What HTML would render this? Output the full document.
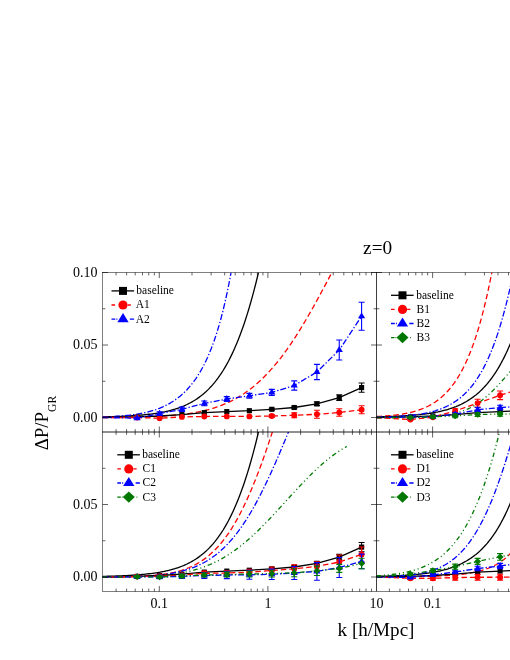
<!DOCTYPE html>
<html><head><meta charset="utf-8"><title>z=0</title>
<style>
html,body{margin:0;padding:0;background:#fff;}
body{width:510px;height:660px;overflow:hidden;font-family:"Liberation Serif",serif;}
svg{display:block;} svg{will-change:transform;}
</style></head><body>
<svg width="510" height="660" viewBox="0 0 510 660" font-family="Liberation Serif, serif" fill="#000">
<rect x="0" y="0" width="510" height="660" fill="#fff"/>
<defs>
<clipPath id="cA"><rect x="102.5" y="272.5" width="274" height="159.5"/></clipPath>
<clipPath id="cB"><rect x="376.5" y="272.5" width="138.5" height="159.5"/></clipPath>
<clipPath id="cC"><rect x="102.5" y="432" width="274" height="159.5"/></clipPath>
<clipPath id="cD"><rect x="376.5" y="432" width="138.5" height="159.5"/></clipPath>
</defs>
<path d="M102.5 416.85 L104.22 416.82 L105.95 416.78 L107.67 416.74 L109.39 416.69 L111.12 416.64 L112.84 416.59 L114.56 416.54 L116.29 416.48 L118.01 416.42 L119.73 416.36 L121.46 416.29 L123.18 416.21 L124.9 416.13 L126.63 416.05 L128.35 415.96 L130.07 415.86 L131.8 415.76 L133.52 415.65 L135.24 415.53 L136.97 415.41 L138.69 415.28 L140.41 415.14 L142.14 414.98 L143.86 414.82 L145.58 414.65 L147.31 414.47 L149.03 414.27 L150.75 414.06 L152.47 413.84 L154.2 413.6 L155.92 413.35 L157.64 413.08 L159.37 412.79 L161.09 412.48 L162.81 412.15 L164.54 411.8 L166.26 411.43 L167.98 411.03 L169.71 410.61 L171.43 410.16 L173.15 409.68 L174.88 409.17 L176.6 408.62 L178.32 408.04 L180.05 407.42 L181.77 406.76 L183.49 406.06 L185.22 405.31 L186.94 404.52 L188.66 403.68 L190.39 402.78 L192.11 401.82 L193.83 400.81 L195.56 399.73 L197.28 398.59 L199 397.38 L200.73 396.09 L202.45 394.72 L204.17 393.27 L205.9 391.74 L207.62 390.11 L209.34 388.38 L211.07 386.56 L212.79 384.63 L214.51 382.58 L216.24 380.42 L217.96 378.13 L219.68 375.72 L221.41 373.17 L223.13 370.48 L224.85 367.64 L226.58 364.64 L228.3 361.49 L230.02 358.16 L231.75 354.66 L233.47 350.98 L235.19 347.11 L236.92 343.04 L238.64 338.77 L240.36 334.29 L242.08 329.59 L243.81 324.66 L245.53 319.5 L247.25 314.1 L248.98 308.45 L250.7 302.54 L252.42 296.37 L254.15 289.93 L255.87 283.22 L257.59 276.22 L258.48 272.5" fill="none" stroke="#000" stroke-width="1.3" clip-path="url(#cA)"/>
<path d="M102.5 417.42 L104.22 417.41 L105.95 417.4 L107.67 417.4 L109.39 417.39 L111.12 417.38 L112.84 417.36 L114.56 417.35 L116.29 417.34 L118.01 417.32 L119.73 417.31 L121.46 417.29 L123.18 417.27 L124.9 417.25 L126.63 417.23 L128.35 417.21 L130.07 417.18 L131.8 417.15 L133.52 417.12 L135.24 417.09 L136.97 417.06 L138.69 417.02 L140.41 416.98 L142.14 416.94 L143.86 416.89 L145.58 416.84 L147.31 416.79 L149.03 416.73 L150.75 416.67 L152.47 416.61 L154.2 416.54 L155.92 416.46 L157.64 416.38 L159.37 416.3 L161.09 416.21 L162.81 416.11 L164.54 416.01 L166.26 415.89 L167.98 415.78 L169.71 415.65 L171.43 415.51 L173.15 415.37 L174.88 415.22 L176.6 415.06 L178.32 414.88 L180.05 414.7 L181.77 414.51 L183.49 414.3 L185.22 414.08 L186.94 413.85 L188.66 413.61 L190.39 413.35 L192.11 413.07 L193.83 412.78 L195.56 412.47 L197.28 412.15 L199 411.81 L200.73 411.45 L202.45 411.07 L204.17 410.67 L205.9 410.24 L207.62 409.8 L209.34 409.33 L211.07 408.84 L212.79 408.33 L214.51 407.79 L216.24 407.22 L217.96 406.62 L219.68 406 L221.41 405.35 L223.13 404.66 L224.85 403.95 L226.58 403.2 L228.3 402.42 L230.02 401.6 L231.75 400.75 L233.47 399.86 L235.19 398.93 L236.92 397.97 L238.64 396.97 L240.36 395.92 L242.08 394.83 L243.81 393.71 L245.53 392.53 L247.25 391.32 L248.98 390.05 L250.7 388.75 L252.42 387.39 L254.15 385.99 L255.87 384.54 L257.59 383.04 L259.32 381.48 L261.04 379.88 L262.76 378.23 L264.49 376.53 L266.21 374.77 L267.93 372.96 L269.66 371.1 L271.38 369.18 L273.1 367.22 L274.83 365.19 L276.55 363.12 L278.27 360.99 L280 358.8 L281.72 356.57 L283.44 354.28 L285.17 351.94 L286.89 349.54 L288.61 347.09 L290.34 344.6 L292.06 342.05 L293.78 339.45 L295.51 336.81 L297.23 334.11 L298.95 331.37 L300.68 328.59 L302.4 325.76 L304.12 322.89 L305.85 319.98 L307.57 317.03 L309.29 314.04 L311.02 311.02 L312.74 307.96 L314.46 304.88 L316.19 301.76 L317.91 298.62 L319.63 295.46 L321.36 292.27 L323.08 289.07 L324.8 285.85 L326.53 282.62 L328.25 279.38 L329.97 276.13 L331.69 272.87 L331.89 272.5" fill="none" stroke="#ff0000" stroke-width="1.3" stroke-dasharray="5.5 3" clip-path="url(#cA)"/>
<path d="M102.5 417.01 L104.22 416.95 L105.95 416.89 L107.67 416.82 L109.39 416.75 L111.12 416.66 L112.84 416.58 L114.56 416.48 L116.29 416.37 L118.01 416.26 L119.73 416.14 L121.46 416 L123.18 415.85 L124.9 415.7 L126.63 415.52 L128.35 415.34 L130.07 415.14 L131.8 414.92 L133.52 414.69 L135.24 414.44 L136.97 414.17 L138.69 413.88 L140.41 413.57 L142.14 413.23 L143.86 412.87 L145.58 412.49 L147.31 412.08 L149.03 411.64 L150.75 411.16 L152.47 410.66 L154.2 410.12 L155.92 409.55 L157.64 408.93 L159.37 408.28 L161.09 407.58 L162.81 406.84 L164.54 406.04 L166.26 405.2 L167.98 404.3 L169.71 403.34 L171.43 402.32 L173.15 401.24 L174.88 400.08 L176.6 398.86 L178.32 397.55 L180.05 396.17 L181.77 394.69 L183.49 393.13 L185.22 391.46 L186.94 389.69 L188.66 387.81 L190.39 385.81 L192.11 383.68 L193.83 381.41 L195.56 379.01 L197.28 376.44 L199 373.72 L200.73 370.82 L202.45 367.73 L204.17 364.45 L205.9 360.95 L207.62 357.22 L209.34 353.24 L211.07 349 L212.79 344.48 L214.51 339.66 L216.24 334.51 L217.96 329.01 L219.68 323.13 L221.41 316.85 L223.13 310.13 L224.85 302.93 L226.58 295.23 L228.3 286.98 L230.02 278.13 L231.04 272.5" fill="none" stroke="#0000ff" stroke-width="1.3" stroke-dasharray="6 2 1.3 2" clip-path="url(#cA)"/>
<path d="M102.5 417.5 L137.1 416.9 L159.6 416 L181.9 414.6 L204.3 412.6 L226.8 411.6 L249.35 410.7 L271.8 409.3 L294.25 407.5 L316.9 403.8 L339.25 397.6 L361.6 387.6" fill="none" stroke="#000" stroke-width="1.3" clip-path="url(#cA)"/>
<g clip-path="url(#cA)">
<path d="M271.8 408.3 V410.3 M268.8 408.3 H274.8 M268.8 410.3 H274.8" stroke="#000" stroke-width="1.1" fill="none"/>
<path d="M294.25 406.3 V408.7 M291.25 406.3 H297.25 M291.25 408.7 H297.25" stroke="#000" stroke-width="1.1" fill="none"/>
<path d="M316.9 402 V405.6 M313.9 402 H319.9 M313.9 405.6 H319.9" stroke="#000" stroke-width="1.1" fill="none"/>
<path d="M339.25 394.8 V400.4 M336.25 394.8 H342.25 M336.25 400.4 H342.25" stroke="#000" stroke-width="1.1" fill="none"/>
<path d="M361.6 383 V392.2 M358.6 383 H364.6 M358.6 392.2 H364.6" stroke="#000" stroke-width="1.1" fill="none"/>
<rect x="134.54" y="414.34" width="5.12" height="5.12" fill="#000"/>
<rect x="157.04" y="413.44" width="5.12" height="5.12" fill="#000"/>
<rect x="179.34" y="412.04" width="5.12" height="5.12" fill="#000"/>
<rect x="201.74" y="410.04" width="5.12" height="5.12" fill="#000"/>
<rect x="224.24" y="409.04" width="5.12" height="5.12" fill="#000"/>
<rect x="246.79" y="408.14" width="5.12" height="5.12" fill="#000"/>
<rect x="269.24" y="406.74" width="5.12" height="5.12" fill="#000"/>
<rect x="291.69" y="404.94" width="5.12" height="5.12" fill="#000"/>
<rect x="314.34" y="401.24" width="5.12" height="5.12" fill="#000"/>
<rect x="336.69" y="395.04" width="5.12" height="5.12" fill="#000"/>
<rect x="359.04" y="385.04" width="5.12" height="5.12" fill="#000"/>
</g>
<path d="M102.5 417.5 L137.1 417.6 L159.6 418.2 L181.9 416.9 L204.3 416.5 L226.8 416.4 L249.35 416.4 L271.8 416 L294.25 415.3 L316.9 414.3 L339.25 412.5 L361.6 409.8" fill="none" stroke="#ff0000" stroke-width="1.3" stroke-dasharray="5.5 3" clip-path="url(#cA)"/>
<g clip-path="url(#cA)">
<path d="M271.8 414.5 V417.5 M268.8 414.5 H274.8 M268.8 417.5 H274.8" stroke="#ff0000" stroke-width="1.1" fill="none"/>
<path d="M294.25 412.8 V417.8 M291.25 412.8 H297.25 M291.25 417.8 H297.25" stroke="#ff0000" stroke-width="1.1" fill="none"/>
<path d="M316.9 410.3 V418.3 M313.9 410.3 H319.9 M313.9 418.3 H319.9" stroke="#ff0000" stroke-width="1.1" fill="none"/>
<path d="M339.25 408.7 V416.3 M336.25 408.7 H342.25 M336.25 416.3 H342.25" stroke="#ff0000" stroke-width="1.1" fill="none"/>
<path d="M361.6 405.8 V413.8 M358.6 405.8 H364.6 M358.6 413.8 H364.6" stroke="#ff0000" stroke-width="1.1" fill="none"/>
<circle cx="137.1" cy="417.6" r="2.94" fill="#ff0000"/>
<circle cx="159.6" cy="418.2" r="2.94" fill="#ff0000"/>
<circle cx="181.9" cy="416.9" r="2.94" fill="#ff0000"/>
<circle cx="204.3" cy="416.5" r="2.94" fill="#ff0000"/>
<circle cx="226.8" cy="416.4" r="2.94" fill="#ff0000"/>
<circle cx="249.35" cy="416.4" r="2.94" fill="#ff0000"/>
<circle cx="271.8" cy="416" r="2.94" fill="#ff0000"/>
<circle cx="294.25" cy="415.3" r="2.94" fill="#ff0000"/>
<circle cx="316.9" cy="414.3" r="2.94" fill="#ff0000"/>
<circle cx="339.25" cy="412.5" r="2.94" fill="#ff0000"/>
<circle cx="361.6" cy="409.8" r="2.94" fill="#ff0000"/>
</g>
<path d="M102.5 417.5 L137.1 418.2 L159.6 413.6 L181.9 409.3 L204.3 403.4 L226.8 399 L249.35 395.8 L271.8 392.4 L294.25 385.5 L316.9 372 L339.25 350 L361.6 316.3" fill="none" stroke="#0000ff" stroke-width="1.3" stroke-dasharray="6 2 1.3 2" clip-path="url(#cA)"/>
<g clip-path="url(#cA)">
<path d="M137.1 417.2 V419.2 M134.1 417.2 H140.1 M134.1 419.2 H140.1" stroke="#0000ff" stroke-width="1.1" fill="none"/>
<path d="M159.6 411.8 V415.4 M156.6 411.8 H162.6 M156.6 415.4 H162.6" stroke="#0000ff" stroke-width="1.1" fill="none"/>
<path d="M181.9 407.1 V411.5 M178.9 407.1 H184.9 M178.9 411.5 H184.9" stroke="#0000ff" stroke-width="1.1" fill="none"/>
<path d="M204.3 401 V405.8 M201.3 401 H207.3 M201.3 405.8 H207.3" stroke="#0000ff" stroke-width="1.1" fill="none"/>
<path d="M226.8 396.6 V401.4 M223.8 396.6 H229.8 M223.8 401.4 H229.8" stroke="#0000ff" stroke-width="1.1" fill="none"/>
<path d="M249.35 393.4 V398.2 M246.35 393.4 H252.35 M246.35 398.2 H252.35" stroke="#0000ff" stroke-width="1.1" fill="none"/>
<path d="M271.8 389.4 V395.4 M268.8 389.4 H274.8 M268.8 395.4 H274.8" stroke="#0000ff" stroke-width="1.1" fill="none"/>
<path d="M294.25 380.9 V390.1 M291.25 380.9 H297.25 M291.25 390.1 H297.25" stroke="#0000ff" stroke-width="1.1" fill="none"/>
<path d="M316.9 364.4 V379.6 M313.9 364.4 H319.9 M313.9 379.6 H319.9" stroke="#0000ff" stroke-width="1.1" fill="none"/>
<path d="M339.25 340 V360 M336.25 340 H342.25 M336.25 360 H342.25" stroke="#0000ff" stroke-width="1.1" fill="none"/>
<path d="M361.6 302.3 V330.3 M358.6 302.3 H364.6 M358.6 330.3 H364.6" stroke="#0000ff" stroke-width="1.1" fill="none"/>
<path d="M137.1 414.3 L140.72 420.18 L133.48 420.18 Z" fill="#0000ff"/>
<path d="M159.6 409.7 L163.22 415.58 L155.98 415.58 Z" fill="#0000ff"/>
<path d="M181.9 405.4 L185.52 411.28 L178.28 411.28 Z" fill="#0000ff"/>
<path d="M204.3 399.5 L207.92 405.38 L200.68 405.38 Z" fill="#0000ff"/>
<path d="M226.8 395.1 L230.42 400.98 L223.18 400.98 Z" fill="#0000ff"/>
<path d="M249.35 391.9 L252.97 397.78 L245.73 397.78 Z" fill="#0000ff"/>
<path d="M271.8 388.5 L275.42 394.38 L268.18 394.38 Z" fill="#0000ff"/>
<path d="M294.25 381.6 L297.87 387.48 L290.63 387.48 Z" fill="#0000ff"/>
<path d="M316.9 368.1 L320.52 373.98 L313.28 373.98 Z" fill="#0000ff"/>
<path d="M339.25 346.1 L342.87 351.98 L335.63 351.98 Z" fill="#0000ff"/>
<path d="M361.6 312.4 L365.22 318.28 L357.98 318.28 Z" fill="#0000ff"/>
</g>
<path d="M376.5 416.85 L377.36 416.83 L378.23 416.81 L379.09 416.79 L379.96 416.77 L380.82 416.75 L381.69 416.73 L382.55 416.71 L383.42 416.68 L384.28 416.66 L385.15 416.63 L386.01 416.61 L386.88 416.58 L387.74 416.56 L388.61 416.53 L389.47 416.5 L390.34 416.47 L391.2 416.44 L392.07 416.41 L392.93 416.38 L393.8 416.34 L394.66 416.31 L395.53 416.27 L396.39 416.23 L397.25 416.2 L398.12 416.16 L398.98 416.11 L399.85 416.07 L400.71 416.03 L401.58 415.98 L402.44 415.94 L403.31 415.89 L404.17 415.84 L405.04 415.79 L405.9 415.73 L406.77 415.68 L407.63 415.62 L408.5 415.56 L409.36 415.5 L410.23 415.44 L411.09 415.38 L411.96 415.31 L412.82 415.24 L413.69 415.17 L414.55 415.1 L415.42 415.02 L416.28 414.94 L417.14 414.86 L418.01 414.78 L418.87 414.69 L419.74 414.6 L420.6 414.51 L421.47 414.42 L422.33 414.32 L423.2 414.22 L424.06 414.11 L424.93 414 L425.79 413.89 L426.66 413.78 L427.52 413.66 L428.39 413.53 L429.25 413.4 L430.12 413.27 L430.98 413.14 L431.85 413 L432.71 412.85 L433.58 412.7 L434.44 412.55 L435.31 412.39 L436.17 412.22 L437.03 412.05 L437.9 411.88 L438.76 411.69 L439.63 411.51 L440.49 411.31 L441.36 411.11 L442.22 410.9 L443.09 410.69 L443.95 410.47 L444.82 410.24 L445.68 410.01 L446.55 409.77 L447.41 409.52 L448.28 409.26 L449.14 408.99 L450.01 408.72 L450.87 408.43 L451.74 408.14 L452.6 407.84 L453.47 407.52 L454.33 407.2 L455.19 406.87 L456.06 406.53 L456.92 406.17 L457.79 405.81 L458.65 405.43 L459.52 405.04 L460.38 404.64 L461.25 404.23 L462.11 403.8 L462.98 403.36 L463.84 402.91 L464.71 402.44 L465.57 401.96 L466.44 401.46 L467.3 400.95 L468.17 400.42 L469.03 399.88 L469.9 399.32 L470.76 398.74 L471.63 398.14 L472.49 397.53 L473.36 396.9 L474.22 396.25 L475.08 395.58 L475.95 394.89 L476.81 394.17 L477.68 393.44 L478.54 392.69 L479.41 391.91 L480.27 391.11 L481.14 390.29 L482 389.44 L482.87 388.56 L483.73 387.67 L484.6 386.74 L485.46 385.79 L486.33 384.81 L487.19 383.81 L488.06 382.77 L488.92 381.71 L489.79 380.61 L490.65 379.49 L491.52 378.33 L492.38 377.14 L493.25 375.91 L494.11 374.66 L494.97 373.37 L495.84 372.04 L496.7 370.68 L497.57 369.27 L498.43 367.84 L499.3 366.36 L500.16 364.84 L501.03 363.28 L501.89 361.68 L502.76 360.04 L503.62 358.36 L504.49 356.63 L505.35 354.86 L506.22 353.04 L507.08 351.17 L507.95 349.26 L508.81 347.3 L509.68 345.29 L510.54 343.22 L511.41 341.11 L512.27 338.95 L513.14 336.73 L514 334.45" fill="none" stroke="#000" stroke-width="1.3" clip-path="url(#cB)"/>
<path d="M376.5 416.55 L377.36 416.51 L378.23 416.46 L379.09 416.41 L379.96 416.36 L380.82 416.31 L381.69 416.26 L382.55 416.2 L383.42 416.15 L384.28 416.09 L385.15 416.02 L386.01 415.96 L386.88 415.89 L387.74 415.82 L388.61 415.74 L389.47 415.66 L390.34 415.58 L391.2 415.5 L392.07 415.41 L392.93 415.32 L393.8 415.23 L394.66 415.13 L395.53 415.03 L396.39 414.92 L397.25 414.81 L398.12 414.69 L398.98 414.57 L399.85 414.45 L400.71 414.32 L401.58 414.18 L402.44 414.04 L403.31 413.89 L404.17 413.74 L405.04 413.58 L405.9 413.42 L406.77 413.25 L407.63 413.07 L408.5 412.89 L409.36 412.69 L410.23 412.49 L411.09 412.29 L411.96 412.07 L412.82 411.85 L413.69 411.62 L414.55 411.38 L415.42 411.13 L416.28 410.87 L417.14 410.6 L418.01 410.32 L418.87 410.03 L419.74 409.73 L420.6 409.42 L421.47 409.09 L422.33 408.76 L423.2 408.41 L424.06 408.05 L424.93 407.67 L425.79 407.28 L426.66 406.88 L427.52 406.46 L428.39 406.03 L429.25 405.58 L430.12 405.12 L430.98 404.64 L431.85 404.14 L432.71 403.62 L433.58 403.09 L434.44 402.53 L435.31 401.96 L436.17 401.36 L437.03 400.75 L437.9 400.11 L438.76 399.45 L439.63 398.77 L440.49 398.07 L441.36 397.34 L442.22 396.58 L443.09 395.8 L443.95 394.99 L444.82 394.15 L445.68 393.29 L446.55 392.39 L447.41 391.47 L448.28 390.51 L449.14 389.53 L450.01 388.51 L450.87 387.45 L451.74 386.36 L452.6 385.23 L453.47 384.07 L454.33 382.87 L455.19 381.62 L456.06 380.34 L456.92 379.02 L457.79 377.65 L458.65 376.24 L459.52 374.78 L460.38 373.28 L461.25 371.72 L462.11 370.12 L462.98 368.47 L463.84 366.76 L464.71 365 L465.57 363.19 L466.44 361.32 L467.3 359.39 L468.17 357.4 L469.03 355.34 L469.9 353.23 L470.76 351.05 L471.63 348.8 L472.49 346.48 L473.36 344.1 L474.22 341.64 L475.08 339.11 L475.95 336.5 L476.81 333.81 L477.68 331.04 L478.54 328.19 L479.41 325.26 L480.27 322.24 L481.14 319.13 L482 315.93 L482.87 312.63 L483.73 309.24 L484.6 305.76 L485.46 302.17 L486.33 298.48 L487.19 294.68 L488.06 290.78 L488.92 286.76 L489.79 282.63 L490.65 278.39 L491.52 274.03 L491.81 272.5" fill="none" stroke="#ff0000" stroke-width="1.3" stroke-dasharray="5.5 3" clip-path="url(#cB)"/>
<path d="M376.5 417.11 L377.36 417.1 L378.23 417.08 L379.09 417.06 L379.96 417.04 L380.82 417.02 L381.69 416.99 L382.55 416.97 L383.42 416.95 L384.28 416.92 L385.15 416.89 L386.01 416.87 L386.88 416.84 L387.74 416.81 L388.61 416.78 L389.47 416.75 L390.34 416.71 L391.2 416.68 L392.07 416.64 L392.93 416.6 L393.8 416.56 L394.66 416.52 L395.53 416.48 L396.39 416.43 L397.25 416.38 L398.12 416.33 L398.98 416.28 L399.85 416.23 L400.71 416.17 L401.58 416.12 L402.44 416.06 L403.31 415.99 L404.17 415.93 L405.04 415.86 L405.9 415.79 L406.77 415.72 L407.63 415.64 L408.5 415.56 L409.36 415.48 L410.23 415.39 L411.09 415.3 L411.96 415.21 L412.82 415.11 L413.69 415.01 L414.55 414.91 L415.42 414.8 L416.28 414.69 L417.14 414.57 L418.01 414.45 L418.87 414.32 L419.74 414.19 L420.6 414.05 L421.47 413.91 L422.33 413.77 L423.2 413.61 L424.06 413.45 L424.93 413.29 L425.79 413.12 L426.66 412.94 L427.52 412.76 L428.39 412.57 L429.25 412.37 L430.12 412.16 L430.98 411.95 L431.85 411.73 L432.71 411.5 L433.58 411.26 L434.44 411.01 L435.31 410.76 L436.17 410.49 L437.03 410.22 L437.9 409.93 L438.76 409.64 L439.63 409.33 L440.49 409.02 L441.36 408.69 L442.22 408.35 L443.09 408 L443.95 407.63 L444.82 407.25 L445.68 406.86 L446.55 406.46 L447.41 406.04 L448.28 405.61 L449.14 405.16 L450.01 404.69 L450.87 404.21 L451.74 403.72 L452.6 403.2 L453.47 402.67 L454.33 402.12 L455.19 401.55 L456.06 400.96 L456.92 400.36 L457.79 399.73 L458.65 399.08 L459.52 398.41 L460.38 397.71 L461.25 397 L462.11 396.26 L462.98 395.49 L463.84 394.7 L464.71 393.88 L465.57 393.04 L466.44 392.17 L467.3 391.27 L468.17 390.34 L469.03 389.38 L469.9 388.39 L470.76 387.37 L471.63 386.32 L472.49 385.23 L473.36 384.11 L474.22 382.95 L475.08 381.76 L475.95 380.53 L476.81 379.26 L477.68 377.95 L478.54 376.6 L479.41 375.21 L480.27 373.77 L481.14 372.29 L482 370.77 L482.87 369.2 L483.73 367.58 L484.6 365.91 L485.46 364.2 L486.33 362.43 L487.19 360.61 L488.06 358.73 L488.92 356.8 L489.79 354.81 L490.65 352.76 L491.52 350.65 L492.38 348.49 L493.25 346.25 L494.11 343.96 L494.97 341.59 L495.84 339.16 L496.7 336.66 L497.57 334.09 L498.43 331.45 L499.3 328.73 L500.16 325.93 L501.03 323.06 L501.89 320.1 L502.76 317.07 L503.62 313.94 L504.49 310.74 L505.35 307.44 L506.22 304.06 L507.08 300.58 L507.95 297.01 L508.81 293.34 L509.68 289.57 L510.54 285.7 L511.41 281.73 L512.27 277.65 L513.14 273.47 L513.33 272.5" fill="none" stroke="#0000ff" stroke-width="1.3" stroke-dasharray="6 2 1.3 2" clip-path="url(#cB)"/>
<path d="M376.5 417.5 L377.36 417.5 L378.23 417.5 L379.09 417.5 L379.96 417.5 L380.82 417.49 L381.69 417.49 L382.55 417.49 L383.42 417.49 L384.28 417.49 L385.15 417.49 L386.01 417.49 L386.88 417.49 L387.74 417.49 L388.61 417.49 L389.47 417.49 L390.34 417.49 L391.2 417.48 L392.07 417.48 L392.93 417.48 L393.8 417.48 L394.66 417.48 L395.53 417.47 L396.39 417.47 L397.25 417.47 L398.12 417.47 L398.98 417.46 L399.85 417.46 L400.71 417.46 L401.58 417.45 L402.44 417.45 L403.31 417.44 L404.17 417.44 L405.04 417.43 L405.9 417.43 L406.77 417.42 L407.63 417.41 L408.5 417.4 L409.36 417.4 L410.23 417.39 L411.09 417.38 L411.96 417.37 L412.82 417.36 L413.69 417.34 L414.55 417.33 L415.42 417.32 L416.28 417.3 L417.14 417.28 L418.01 417.27 L418.87 417.25 L419.74 417.23 L420.6 417.21 L421.47 417.18 L422.33 417.16 L423.2 417.13 L424.06 417.1 L424.93 417.07 L425.79 417.04 L426.66 417.01 L427.52 416.97 L428.39 416.93 L429.25 416.89 L430.12 416.84 L430.98 416.8 L431.85 416.75 L432.71 416.69 L433.58 416.63 L434.44 416.57 L435.31 416.51 L436.17 416.44 L437.03 416.37 L437.9 416.29 L438.76 416.21 L439.63 416.12 L440.49 416.03 L441.36 415.93 L442.22 415.83 L443.09 415.72 L443.95 415.61 L444.82 415.49 L445.68 415.36 L446.55 415.23 L447.41 415.09 L448.28 414.94 L449.14 414.79 L450.01 414.62 L450.87 414.45 L451.74 414.27 L452.6 414.08 L453.47 413.89 L454.33 413.68 L455.19 413.46 L456.06 413.23 L456.92 413 L457.79 412.75 L458.65 412.49 L459.52 412.22 L460.38 411.93 L461.25 411.64 L462.11 411.33 L462.98 411.01 L463.84 410.68 L464.71 410.34 L465.57 409.98 L466.44 409.6 L467.3 409.22 L468.17 408.81 L469.03 408.4 L469.9 407.97 L470.76 407.52 L471.63 407.06 L472.49 406.58 L473.36 406.09 L474.22 405.58 L475.08 405.05 L475.95 404.51 L476.81 403.95 L477.68 403.38 L478.54 402.78 L479.41 402.18 L480.27 401.55 L481.14 400.91 L482 400.25 L482.87 399.58 L483.73 398.88 L484.6 398.18 L485.46 397.45 L486.33 396.71 L487.19 395.95 L488.06 395.18 L488.92 394.39 L489.79 393.59 L490.65 392.77 L491.52 391.94 L492.38 391.09 L493.25 390.23 L494.11 389.36 L494.97 388.47 L495.84 387.58 L496.7 386.67 L497.57 385.75 L498.43 384.81 L499.3 383.87 L500.16 382.93 L501.03 381.97 L501.89 381 L502.76 380.03 L503.62 379.06 L504.49 378.08 L505.35 377.09 L506.22 376.1 L507.08 375.11 L507.95 374.13 L508.81 373.14 L509.68 372.15 L510.54 371.16 L511.41 370.18 L512.27 369.2 L513.14 368.23 L514 367.27" fill="none" stroke="#007800" stroke-width="1.3" stroke-dasharray="4.6 2.8 1.1 2.8 1.1 2.8" clip-path="url(#cB)"/>
<path d="M376.5 417.5 L410.4 416.9 L432.9 416 L455.2 414.6 L477.6 412.6 L500.1 411.6 L522.65 410.7 L545.1 409.3 L567.55 407.5 L590.2 403.8 L612.55 397.6 L634.9 387.6" fill="none" stroke="#000" stroke-width="1.3" clip-path="url(#cB)"/>
<g clip-path="url(#cB)">
<path d="M545.1 408.3 V410.3 M542.1 408.3 H548.1 M542.1 410.3 H548.1" stroke="#000" stroke-width="1.1" fill="none"/>
<path d="M567.55 406.3 V408.7 M564.55 406.3 H570.55 M564.55 408.7 H570.55" stroke="#000" stroke-width="1.1" fill="none"/>
<path d="M590.2 402 V405.6 M587.2 402 H593.2 M587.2 405.6 H593.2" stroke="#000" stroke-width="1.1" fill="none"/>
<path d="M612.55 394.8 V400.4 M609.55 394.8 H615.55 M609.55 400.4 H615.55" stroke="#000" stroke-width="1.1" fill="none"/>
<path d="M634.9 383 V392.2 M631.9 383 H637.9 M631.9 392.2 H637.9" stroke="#000" stroke-width="1.1" fill="none"/>
<rect x="407.84" y="414.34" width="5.12" height="5.12" fill="#000"/>
<rect x="430.34" y="413.44" width="5.12" height="5.12" fill="#000"/>
<rect x="452.64" y="412.04" width="5.12" height="5.12" fill="#000"/>
<rect x="475.04" y="410.04" width="5.12" height="5.12" fill="#000"/>
<rect x="497.54" y="409.04" width="5.12" height="5.12" fill="#000"/>
<rect x="520.09" y="408.14" width="5.12" height="5.12" fill="#000"/>
<rect x="542.54" y="406.74" width="5.12" height="5.12" fill="#000"/>
<rect x="564.99" y="404.94" width="5.12" height="5.12" fill="#000"/>
<rect x="587.64" y="401.24" width="5.12" height="5.12" fill="#000"/>
<rect x="609.99" y="395.04" width="5.12" height="5.12" fill="#000"/>
<rect x="632.34" y="385.04" width="5.12" height="5.12" fill="#000"/>
</g>
<path d="M376.5 417.5 L410.4 419.5 L432.9 417.2 L455.2 411 L477.6 403.1 L500.1 395.3 L522.65 388 L545.1 380 L567.55 372 L590.2 364 L612.55 356 L634.9 348" fill="none" stroke="#ff0000" stroke-width="1.3" stroke-dasharray="5.5 3" clip-path="url(#cB)"/>
<g clip-path="url(#cB)">
<path d="M410.4 418.5 V420.5 M407.4 418.5 H413.4 M407.4 420.5 H413.4" stroke="#ff0000" stroke-width="1.1" fill="none"/>
<path d="M432.9 416 V418.4 M429.9 416 H435.9 M429.9 418.4 H435.9" stroke="#ff0000" stroke-width="1.1" fill="none"/>
<path d="M455.2 408.8 V413.2 M452.2 408.8 H458.2 M452.2 413.2 H458.2" stroke="#ff0000" stroke-width="1.1" fill="none"/>
<path d="M477.6 399.2 V407 M474.6 399.2 H480.6 M474.6 407 H480.6" stroke="#ff0000" stroke-width="1.1" fill="none"/>
<path d="M500.1 391 V399.6 M497.1 391 H503.1 M497.1 399.6 H503.1" stroke="#ff0000" stroke-width="1.1" fill="none"/>
<path d="M522.65 384 V392 M519.65 384 H525.65 M519.65 392 H525.65" stroke="#ff0000" stroke-width="1.1" fill="none"/>
<path d="M545.1 376 V384 M542.1 376 H548.1 M542.1 384 H548.1" stroke="#ff0000" stroke-width="1.1" fill="none"/>
<path d="M567.55 368 V376 M564.55 368 H570.55 M564.55 376 H570.55" stroke="#ff0000" stroke-width="1.1" fill="none"/>
<path d="M590.2 360 V368 M587.2 360 H593.2 M587.2 368 H593.2" stroke="#ff0000" stroke-width="1.1" fill="none"/>
<path d="M612.55 352 V360 M609.55 352 H615.55 M609.55 360 H615.55" stroke="#ff0000" stroke-width="1.1" fill="none"/>
<path d="M634.9 344 V352 M631.9 344 H637.9 M631.9 352 H637.9" stroke="#ff0000" stroke-width="1.1" fill="none"/>
<circle cx="410.4" cy="419.5" r="2.94" fill="#ff0000"/>
<circle cx="432.9" cy="417.2" r="2.94" fill="#ff0000"/>
<circle cx="455.2" cy="411" r="2.94" fill="#ff0000"/>
<circle cx="477.6" cy="403.1" r="2.94" fill="#ff0000"/>
<circle cx="500.1" cy="395.3" r="2.94" fill="#ff0000"/>
<circle cx="522.65" cy="388" r="2.94" fill="#ff0000"/>
<circle cx="545.1" cy="380" r="2.94" fill="#ff0000"/>
<circle cx="567.55" cy="372" r="2.94" fill="#ff0000"/>
<circle cx="590.2" cy="364" r="2.94" fill="#ff0000"/>
<circle cx="612.55" cy="356" r="2.94" fill="#ff0000"/>
<circle cx="634.9" cy="348" r="2.94" fill="#ff0000"/>
</g>
<path d="M376.5 417.5 L410.4 417.2 L432.9 416.6 L455.2 414.3 L477.6 409.7 L500.1 407.6 L522.65 406 L545.1 404 L567.55 402 L590.2 400 L612.55 398 L634.9 396" fill="none" stroke="#0000ff" stroke-width="1.3" stroke-dasharray="6 2 1.3 2" clip-path="url(#cB)"/>
<g clip-path="url(#cB)">
<path d="M410.4 416.4 V418 M407.4 416.4 H413.4 M407.4 418 H413.4" stroke="#0000ff" stroke-width="1.1" fill="none"/>
<path d="M432.9 415.6 V417.6 M429.9 415.6 H435.9 M429.9 417.6 H435.9" stroke="#0000ff" stroke-width="1.1" fill="none"/>
<path d="M455.2 412.7 V415.9 M452.2 412.7 H458.2 M452.2 415.9 H458.2" stroke="#0000ff" stroke-width="1.1" fill="none"/>
<path d="M477.6 407.5 V411.9 M474.6 407.5 H480.6 M474.6 411.9 H480.6" stroke="#0000ff" stroke-width="1.1" fill="none"/>
<path d="M500.1 405.2 V410 M497.1 405.2 H503.1 M497.1 410 H503.1" stroke="#0000ff" stroke-width="1.1" fill="none"/>
<path d="M522.65 403 V409 M519.65 403 H525.65 M519.65 409 H525.65" stroke="#0000ff" stroke-width="1.1" fill="none"/>
<path d="M545.1 401 V407 M542.1 401 H548.1 M542.1 407 H548.1" stroke="#0000ff" stroke-width="1.1" fill="none"/>
<path d="M567.55 399 V405 M564.55 399 H570.55 M564.55 405 H570.55" stroke="#0000ff" stroke-width="1.1" fill="none"/>
<path d="M590.2 397 V403 M587.2 397 H593.2 M587.2 403 H593.2" stroke="#0000ff" stroke-width="1.1" fill="none"/>
<path d="M612.55 395 V401 M609.55 395 H615.55 M609.55 401 H615.55" stroke="#0000ff" stroke-width="1.1" fill="none"/>
<path d="M634.9 393 V399 M631.9 393 H637.9 M631.9 399 H637.9" stroke="#0000ff" stroke-width="1.1" fill="none"/>
<path d="M410.4 413.3 L414.02 419.18 L406.78 419.18 Z" fill="#0000ff"/>
<path d="M432.9 412.7 L436.52 418.58 L429.28 418.58 Z" fill="#0000ff"/>
<path d="M455.2 410.4 L458.82 416.28 L451.58 416.28 Z" fill="#0000ff"/>
<path d="M477.6 405.8 L481.22 411.68 L473.98 411.68 Z" fill="#0000ff"/>
<path d="M500.1 403.7 L503.72 409.58 L496.48 409.58 Z" fill="#0000ff"/>
<path d="M522.65 402.1 L526.27 407.98 L519.03 407.98 Z" fill="#0000ff"/>
<path d="M545.1 400.1 L548.72 405.98 L541.48 405.98 Z" fill="#0000ff"/>
<path d="M567.55 398.1 L571.17 403.98 L563.93 403.98 Z" fill="#0000ff"/>
<path d="M590.2 396.1 L593.82 401.98 L586.58 401.98 Z" fill="#0000ff"/>
<path d="M612.55 394.1 L616.17 399.98 L608.93 399.98 Z" fill="#0000ff"/>
<path d="M634.9 392.1 L638.52 397.98 L631.28 397.98 Z" fill="#0000ff"/>
</g>
<path d="M376.5 417.5 L410.4 417.5 L432.9 416.8 L455.2 415.9 L477.6 414.5 L500.1 414.1 L522.65 413.8 L545.1 413 L567.55 412 L590.2 411 L612.55 410 L634.9 409" fill="none" stroke="#007800" stroke-width="1.3" stroke-dasharray="4.6 2.8 1.1 2.8 1.1 2.8" clip-path="url(#cB)"/>
<g clip-path="url(#cB)">
<path d="M410.4 416.5 V418.5 M407.4 416.5 H413.4 M407.4 418.5 H413.4" stroke="#007800" stroke-width="1.1" fill="none"/>
<path d="M432.9 415.6 V418 M429.9 415.6 H435.9 M429.9 418 H435.9" stroke="#007800" stroke-width="1.1" fill="none"/>
<path d="M455.2 414.1 V417.7 M452.2 414.1 H458.2 M452.2 417.7 H458.2" stroke="#007800" stroke-width="1.1" fill="none"/>
<path d="M477.6 412.5 V416.5 M474.6 412.5 H480.6 M474.6 416.5 H480.6" stroke="#007800" stroke-width="1.1" fill="none"/>
<path d="M500.1 412.1 V416.1 M497.1 412.1 H503.1 M497.1 416.1 H503.1" stroke="#007800" stroke-width="1.1" fill="none"/>
<path d="M522.65 411.8 V415.8 M519.65 411.8 H525.65 M519.65 415.8 H525.65" stroke="#007800" stroke-width="1.1" fill="none"/>
<path d="M545.1 411 V415 M542.1 411 H548.1 M542.1 415 H548.1" stroke="#007800" stroke-width="1.1" fill="none"/>
<path d="M567.55 410 V414 M564.55 410 H570.55 M564.55 414 H570.55" stroke="#007800" stroke-width="1.1" fill="none"/>
<path d="M590.2 409 V413 M587.2 409 H593.2 M587.2 413 H593.2" stroke="#007800" stroke-width="1.1" fill="none"/>
<path d="M612.55 408 V412 M609.55 408 H615.55 M609.55 412 H615.55" stroke="#007800" stroke-width="1.1" fill="none"/>
<path d="M634.9 407 V411 M631.9 407 H637.9 M631.9 411 H637.9" stroke="#007800" stroke-width="1.1" fill="none"/>
<path d="M410.4 414.22 L413.88 417.5 L410.4 420.78 L406.92 417.5 Z" fill="#007800"/>
<path d="M432.9 413.52 L436.38 416.8 L432.9 420.08 L429.42 416.8 Z" fill="#007800"/>
<path d="M455.2 412.62 L458.68 415.9 L455.2 419.18 L451.72 415.9 Z" fill="#007800"/>
<path d="M477.6 411.22 L481.08 414.5 L477.6 417.78 L474.12 414.5 Z" fill="#007800"/>
<path d="M500.1 410.82 L503.58 414.1 L500.1 417.38 L496.62 414.1 Z" fill="#007800"/>
<path d="M522.65 410.52 L526.13 413.8 L522.65 417.08 L519.17 413.8 Z" fill="#007800"/>
<path d="M545.1 409.72 L548.58 413 L545.1 416.28 L541.62 413 Z" fill="#007800"/>
<path d="M567.55 408.72 L571.03 412 L567.55 415.28 L564.07 412 Z" fill="#007800"/>
<path d="M590.2 407.72 L593.68 411 L590.2 414.28 L586.72 411 Z" fill="#007800"/>
<path d="M612.55 406.72 L616.03 410 L612.55 413.28 L609.07 410 Z" fill="#007800"/>
<path d="M634.9 405.72 L638.38 409 L634.9 412.28 L631.42 409 Z" fill="#007800"/>
</g>
<path d="M102.5 576.35 L104.22 576.32 L105.95 576.28 L107.67 576.24 L109.39 576.19 L111.12 576.14 L112.84 576.09 L114.56 576.04 L116.29 575.98 L118.01 575.92 L119.73 575.86 L121.46 575.79 L123.18 575.71 L124.9 575.63 L126.63 575.55 L128.35 575.46 L130.07 575.36 L131.8 575.26 L133.52 575.15 L135.24 575.03 L136.97 574.91 L138.69 574.78 L140.41 574.64 L142.14 574.48 L143.86 574.32 L145.58 574.15 L147.31 573.97 L149.03 573.77 L150.75 573.56 L152.47 573.34 L154.2 573.1 L155.92 572.85 L157.64 572.58 L159.37 572.29 L161.09 571.98 L162.81 571.65 L164.54 571.3 L166.26 570.93 L167.98 570.53 L169.71 570.11 L171.43 569.66 L173.15 569.18 L174.88 568.67 L176.6 568.12 L178.32 567.54 L180.05 566.92 L181.77 566.26 L183.49 565.56 L185.22 564.81 L186.94 564.02 L188.66 563.18 L190.39 562.28 L192.11 561.32 L193.83 560.31 L195.56 559.23 L197.28 558.09 L199 556.88 L200.73 555.59 L202.45 554.22 L204.17 552.77 L205.9 551.24 L207.62 549.61 L209.34 547.88 L211.07 546.06 L212.79 544.13 L214.51 542.08 L216.24 539.92 L217.96 537.63 L219.68 535.22 L221.41 532.67 L223.13 529.98 L224.85 527.14 L226.58 524.14 L228.3 520.99 L230.02 517.66 L231.75 514.16 L233.47 510.48 L235.19 506.61 L236.92 502.54 L238.64 498.27 L240.36 493.79 L242.08 489.09 L243.81 484.16 L245.53 479 L247.25 473.6 L248.98 467.95 L250.7 462.04 L252.42 455.87 L254.15 449.43 L255.87 442.72 L257.59 435.72 L258.48 432" fill="none" stroke="#000" stroke-width="1.3" clip-path="url(#cC)"/>
<path d="M102.5 576.93 L104.22 576.92 L105.95 576.91 L107.67 576.9 L109.39 576.89 L111.12 576.88 L112.84 576.86 L114.56 576.84 L116.29 576.82 L118.01 576.8 L119.73 576.78 L121.46 576.76 L123.18 576.73 L124.9 576.7 L126.63 576.66 L128.35 576.62 L130.07 576.58 L131.8 576.54 L133.52 576.49 L135.24 576.43 L136.97 576.37 L138.69 576.3 L140.41 576.23 L142.14 576.14 L143.86 576.06 L145.58 575.96 L147.31 575.85 L149.03 575.74 L150.75 575.61 L152.47 575.47 L154.2 575.32 L155.92 575.16 L157.64 574.98 L159.37 574.78 L161.09 574.57 L162.81 574.35 L164.54 574.1 L166.26 573.83 L167.98 573.54 L169.71 573.23 L171.43 572.89 L173.15 572.53 L174.88 572.14 L176.6 571.71 L178.32 571.26 L180.05 570.77 L181.77 570.25 L183.49 569.69 L185.22 569.09 L186.94 568.45 L188.66 567.76 L190.39 567.02 L192.11 566.24 L193.83 565.4 L195.56 564.51 L197.28 563.56 L199 562.56 L200.73 561.49 L202.45 560.35 L204.17 559.15 L205.9 557.87 L207.62 556.52 L209.34 555.1 L211.07 553.59 L212.79 552 L214.51 550.33 L216.24 548.56 L217.96 546.71 L219.68 544.76 L221.41 542.72 L223.13 540.57 L224.85 538.33 L226.58 535.98 L228.3 533.52 L230.02 530.95 L231.75 528.28 L233.47 525.49 L235.19 522.59 L236.92 519.57 L238.64 516.43 L240.36 513.18 L242.08 509.8 L243.81 506.31 L245.53 502.7 L247.25 498.97 L248.98 495.12 L250.7 491.15 L252.42 487.07 L254.15 482.86 L255.87 478.55 L257.59 474.12 L259.32 469.58 L261.04 464.94 L262.76 460.19 L264.49 455.34 L266.21 450.4 L267.93 445.36 L269.66 440.24 L271.38 435.04 L272.37 432" fill="none" stroke="#ff0000" stroke-width="1.3" stroke-dasharray="5.5 3" clip-path="url(#cC)"/>
<path d="M102.5 576.92 L104.22 576.91 L105.95 576.9 L107.67 576.88 L109.39 576.87 L111.12 576.86 L112.84 576.84 L114.56 576.82 L116.29 576.8 L118.01 576.78 L119.73 576.76 L121.46 576.73 L123.18 576.7 L124.9 576.67 L126.63 576.64 L128.35 576.6 L130.07 576.56 L131.8 576.52 L133.52 576.47 L135.24 576.41 L136.97 576.36 L138.69 576.29 L140.41 576.22 L142.14 576.15 L143.86 576.07 L145.58 575.98 L147.31 575.88 L149.03 575.77 L150.75 575.66 L152.47 575.54 L154.2 575.4 L155.92 575.26 L157.64 575.1 L159.37 574.94 L161.09 574.75 L162.81 574.56 L164.54 574.35 L166.26 574.12 L167.98 573.88 L169.71 573.61 L171.43 573.33 L173.15 573.03 L174.88 572.71 L176.6 572.36 L178.32 571.99 L180.05 571.59 L181.77 571.17 L183.49 570.72 L185.22 570.23 L186.94 569.72 L188.66 569.17 L190.39 568.59 L192.11 567.97 L193.83 567.32 L195.56 566.62 L197.28 565.88 L199 565.1 L200.73 564.27 L202.45 563.4 L204.17 562.48 L205.9 561.5 L207.62 560.47 L209.34 559.39 L211.07 558.25 L212.79 557.05 L214.51 555.8 L216.24 554.47 L217.96 553.09 L219.68 551.64 L221.41 550.11 L223.13 548.52 L224.85 546.86 L226.58 545.13 L228.3 543.32 L230.02 541.43 L231.75 539.47 L233.47 537.43 L235.19 535.3 L236.92 533.1 L238.64 530.81 L240.36 528.45 L242.08 525.99 L243.81 523.46 L245.53 520.84 L247.25 518.14 L248.98 515.35 L250.7 512.48 L252.42 509.52 L254.15 506.49 L255.87 503.37 L257.59 500.17 L259.32 496.89 L261.04 493.54 L262.76 490.1 L264.49 486.6 L266.21 483.02 L267.93 479.38 L269.66 475.67 L271.38 471.9 L273.1 468.07 L274.83 464.18 L276.55 460.24 L278.27 456.26 L280 452.23 L281.72 448.16 L283.44 444.06 L285.17 439.93 L286.89 435.78 L288.45 432" fill="none" stroke="#0000ff" stroke-width="1.3" stroke-dasharray="6 2 1.3 2" clip-path="url(#cC)"/>
<path d="M102.5 576.96 L104.04 576.96 L105.57 576.95 L107.11 576.95 L108.65 576.94 L110.18 576.93 L111.72 576.92 L113.26 576.91 L114.79 576.9 L116.33 576.89 L117.86 576.88 L119.4 576.87 L120.94 576.85 L122.47 576.84 L124.01 576.82 L125.55 576.8 L127.08 576.78 L128.62 576.76 L130.16 576.73 L131.69 576.71 L133.23 576.68 L134.77 576.65 L136.3 576.61 L137.84 576.57 L139.38 576.53 L140.91 576.49 L142.45 576.44 L143.98 576.39 L145.52 576.33 L147.06 576.27 L148.59 576.2 L150.13 576.13 L151.67 576.05 L153.2 575.97 L154.74 575.88 L156.28 575.79 L157.81 575.68 L159.35 575.57 L160.89 575.46 L162.42 575.33 L163.96 575.2 L165.5 575.05 L167.03 574.9 L168.57 574.74 L170.11 574.56 L171.64 574.38 L173.18 574.18 L174.71 573.97 L176.25 573.75 L177.79 573.52 L179.32 573.27 L180.86 573.01 L182.4 572.73 L183.93 572.44 L185.47 572.13 L187.01 571.8 L188.54 571.46 L190.08 571.1 L191.62 570.72 L193.15 570.32 L194.69 569.9 L196.23 569.47 L197.76 569.01 L199.3 568.52 L200.83 568.02 L202.37 567.5 L203.91 566.95 L205.44 566.38 L206.98 565.78 L208.52 565.16 L210.05 564.51 L211.59 563.84 L213.13 563.14 L214.66 562.42 L216.2 561.67 L217.74 560.89 L219.27 560.09 L220.81 559.25 L222.35 558.39 L223.88 557.51 L225.42 556.59 L226.95 555.64 L228.49 554.67 L230.03 553.67 L231.56 552.63 L233.1 551.57 L234.64 550.49 L236.17 549.37 L237.71 548.22 L239.25 547.05 L240.78 545.85 L242.32 544.62 L243.86 543.37 L245.39 542.09 L246.93 540.78 L248.47 539.44 L250 538.08 L251.54 536.7 L253.07 535.29 L254.61 533.86 L256.15 532.41 L257.68 530.94 L259.22 529.44 L260.76 527.92 L262.29 526.39 L263.83 524.84 L265.37 523.27 L266.9 521.68 L268.44 520.08 L269.98 518.46 L271.51 516.83 L273.05 515.19 L274.59 513.54 L276.12 511.88 L277.66 510.21 L279.19 508.54 L280.73 506.86 L282.27 505.17 L283.8 503.49 L285.34 501.8 L286.88 500.11 L288.41 498.42 L289.95 496.73 L291.49 495.05 L293.02 493.37 L294.56 491.69 L296.1 490.03 L297.63 488.37 L299.17 486.73 L300.71 485.09 L302.24 483.47 L303.78 481.86 L305.32 480.27 L306.85 478.69 L308.39 477.13 L309.92 475.59 L311.46 474.07 L313 472.57 L314.53 471.09 L316.07 469.63 L317.61 468.2 L319.14 466.79 L320.68 465.41 L322.22 464.06 L323.75 462.73 L325.29 461.43 L326.83 460.16 L328.36 458.92 L329.9 457.7 L331.44 456.52 L332.97 455.38 L334.51 454.26 L336.04 453.18 L337.58 452.12 L339.12 451.11 L340.65 450.12 L342.19 449.17 L343.73 448.25 L345.26 447.37 L346.8 446.53" fill="none" stroke="#007800" stroke-width="1.3" stroke-dasharray="4.6 2.8 1.1 2.8 1.1 2.8" clip-path="url(#cC)"/>
<path d="M102.5 577 L137.1 576.4 L159.6 575.5 L181.9 574.1 L204.3 572.1 L226.8 571.1 L249.35 570.2 L271.8 568.8 L294.25 567 L316.9 563.3 L339.25 557.1 L361.6 547.1" fill="none" stroke="#000" stroke-width="1.3" clip-path="url(#cC)"/>
<g clip-path="url(#cC)">
<path d="M271.8 567.8 V569.8 M268.8 567.8 H274.8 M268.8 569.8 H274.8" stroke="#000" stroke-width="1.1" fill="none"/>
<path d="M294.25 565.8 V568.2 M291.25 565.8 H297.25 M291.25 568.2 H297.25" stroke="#000" stroke-width="1.1" fill="none"/>
<path d="M316.9 561.5 V565.1 M313.9 561.5 H319.9 M313.9 565.1 H319.9" stroke="#000" stroke-width="1.1" fill="none"/>
<path d="M339.25 554.3 V559.9 M336.25 554.3 H342.25 M336.25 559.9 H342.25" stroke="#000" stroke-width="1.1" fill="none"/>
<path d="M361.6 542.5 V551.7 M358.6 542.5 H364.6 M358.6 551.7 H364.6" stroke="#000" stroke-width="1.1" fill="none"/>
<rect x="134.54" y="573.84" width="5.12" height="5.12" fill="#000"/>
<rect x="157.04" y="572.94" width="5.12" height="5.12" fill="#000"/>
<rect x="179.34" y="571.54" width="5.12" height="5.12" fill="#000"/>
<rect x="201.74" y="569.54" width="5.12" height="5.12" fill="#000"/>
<rect x="224.24" y="568.54" width="5.12" height="5.12" fill="#000"/>
<rect x="246.79" y="567.64" width="5.12" height="5.12" fill="#000"/>
<rect x="269.24" y="566.24" width="5.12" height="5.12" fill="#000"/>
<rect x="291.69" y="564.44" width="5.12" height="5.12" fill="#000"/>
<rect x="314.34" y="560.74" width="5.12" height="5.12" fill="#000"/>
<rect x="336.69" y="554.54" width="5.12" height="5.12" fill="#000"/>
<rect x="359.04" y="544.54" width="5.12" height="5.12" fill="#000"/>
</g>
<path d="M102.5 577 L137.1 576.6 L159.6 576.2 L181.9 575.1 L204.3 573.3 L226.8 573 L249.35 572.2 L271.8 570.5 L294.25 568.8 L316.9 566.4 L339.25 562 L361.6 554.5" fill="none" stroke="#ff0000" stroke-width="1.3" stroke-dasharray="5.5 3" clip-path="url(#cC)"/>
<g clip-path="url(#cC)">
<path d="M137.1 575.6 V577.6 M134.1 575.6 H140.1 M134.1 577.6 H140.1" stroke="#ff0000" stroke-width="1.1" fill="none"/>
<path d="M159.6 575 V577.4 M156.6 575 H162.6 M156.6 577.4 H162.6" stroke="#ff0000" stroke-width="1.1" fill="none"/>
<path d="M181.9 573.5 V576.7 M178.9 573.5 H184.9 M178.9 576.7 H184.9" stroke="#ff0000" stroke-width="1.1" fill="none"/>
<path d="M204.3 571.3 V575.3 M201.3 571.3 H207.3 M201.3 575.3 H207.3" stroke="#ff0000" stroke-width="1.1" fill="none"/>
<path d="M226.8 570.5 V575.5 M223.8 570.5 H229.8 M223.8 575.5 H229.8" stroke="#ff0000" stroke-width="1.1" fill="none"/>
<path d="M249.35 569.2 V575.2 M246.35 569.2 H252.35 M246.35 575.2 H252.35" stroke="#ff0000" stroke-width="1.1" fill="none"/>
<path d="M271.8 567 V574 M268.8 567 H274.8 M268.8 574 H274.8" stroke="#ff0000" stroke-width="1.1" fill="none"/>
<path d="M294.25 564.8 V572.8 M291.25 564.8 H297.25 M291.25 572.8 H297.25" stroke="#ff0000" stroke-width="1.1" fill="none"/>
<path d="M316.9 561.7 V571.1 M313.9 561.7 H319.9 M313.9 571.1 H319.9" stroke="#ff0000" stroke-width="1.1" fill="none"/>
<path d="M339.25 555 V569 M336.25 555 H342.25 M336.25 569 H342.25" stroke="#ff0000" stroke-width="1.1" fill="none"/>
<path d="M361.6 547 V562 M358.6 547 H364.6 M358.6 562 H364.6" stroke="#ff0000" stroke-width="1.1" fill="none"/>
<circle cx="137.1" cy="576.6" r="2.94" fill="#ff0000"/>
<circle cx="159.6" cy="576.2" r="2.94" fill="#ff0000"/>
<circle cx="181.9" cy="575.1" r="2.94" fill="#ff0000"/>
<circle cx="204.3" cy="573.3" r="2.94" fill="#ff0000"/>
<circle cx="226.8" cy="573" r="2.94" fill="#ff0000"/>
<circle cx="249.35" cy="572.2" r="2.94" fill="#ff0000"/>
<circle cx="271.8" cy="570.5" r="2.94" fill="#ff0000"/>
<circle cx="294.25" cy="568.8" r="2.94" fill="#ff0000"/>
<circle cx="316.9" cy="566.4" r="2.94" fill="#ff0000"/>
<circle cx="339.25" cy="562" r="2.94" fill="#ff0000"/>
<circle cx="361.6" cy="554.5" r="2.94" fill="#ff0000"/>
</g>
<path d="M102.5 577 L137.1 576.8 L159.6 577 L181.9 576.3 L204.3 575.5 L226.8 575 L249.35 574.8 L271.8 574.3 L294.25 573 L316.9 571.4 L339.25 567.5 L361.6 561.4" fill="none" stroke="#0000ff" stroke-width="1.3" stroke-dasharray="6 2 1.3 2" clip-path="url(#cC)"/>
<g clip-path="url(#cC)">
<path d="M137.1 575.6 V578 M134.1 575.6 H140.1 M134.1 578 H140.1" stroke="#0000ff" stroke-width="1.1" fill="none"/>
<path d="M159.6 575.4 V578.6 M156.6 575.4 H162.6 M156.6 578.6 H162.6" stroke="#0000ff" stroke-width="1.1" fill="none"/>
<path d="M181.9 574.1 V578.5 M178.9 574.1 H184.9 M178.9 578.5 H184.9" stroke="#0000ff" stroke-width="1.1" fill="none"/>
<path d="M204.3 572.5 V578.5 M201.3 572.5 H207.3 M201.3 578.5 H207.3" stroke="#0000ff" stroke-width="1.1" fill="none"/>
<path d="M226.8 571.4 V578.6 M223.8 571.4 H229.8 M223.8 578.6 H229.8" stroke="#0000ff" stroke-width="1.1" fill="none"/>
<path d="M249.35 570.4 V579.2 M246.35 570.4 H252.35 M246.35 579.2 H252.35" stroke="#0000ff" stroke-width="1.1" fill="none"/>
<path d="M271.8 569.1 V579.5 M268.8 569.1 H274.8 M268.8 579.5 H274.8" stroke="#0000ff" stroke-width="1.1" fill="none"/>
<path d="M294.25 566.5 V579.5 M291.25 566.5 H297.25 M291.25 579.5 H297.25" stroke="#0000ff" stroke-width="1.1" fill="none"/>
<path d="M316.9 562.6 V580.2 M313.9 562.6 H319.9 M313.9 580.2 H319.9" stroke="#0000ff" stroke-width="1.1" fill="none"/>
<path d="M339.25 557.5 V577.5 M336.25 557.5 H342.25 M336.25 577.5 H342.25" stroke="#0000ff" stroke-width="1.1" fill="none"/>
<path d="M361.6 554.1 V568.7 M358.6 554.1 H364.6 M358.6 568.7 H364.6" stroke="#0000ff" stroke-width="1.1" fill="none"/>
<path d="M137.1 572.9 L140.72 578.78 L133.48 578.78 Z" fill="#0000ff"/>
<path d="M159.6 573.1 L163.22 578.98 L155.98 578.98 Z" fill="#0000ff"/>
<path d="M181.9 572.4 L185.52 578.28 L178.28 578.28 Z" fill="#0000ff"/>
<path d="M204.3 571.6 L207.92 577.48 L200.68 577.48 Z" fill="#0000ff"/>
<path d="M226.8 571.1 L230.42 576.98 L223.18 576.98 Z" fill="#0000ff"/>
<path d="M249.35 570.9 L252.97 576.78 L245.73 576.78 Z" fill="#0000ff"/>
<path d="M271.8 570.4 L275.42 576.28 L268.18 576.28 Z" fill="#0000ff"/>
<path d="M294.25 569.1 L297.87 574.98 L290.63 574.98 Z" fill="#0000ff"/>
<path d="M316.9 567.5 L320.52 573.38 L313.28 573.38 Z" fill="#0000ff"/>
<path d="M339.25 563.6 L342.87 569.48 L335.63 569.48 Z" fill="#0000ff"/>
<path d="M361.6 557.5 L365.22 563.38 L357.98 563.38 Z" fill="#0000ff"/>
</g>
<path d="M102.5 577 L137.1 576.8 L159.6 577 L181.9 576 L204.3 575 L226.8 574.5 L249.35 574 L271.8 573.6 L294.25 572.8 L316.9 570.8 L339.25 568.4 L361.6 563.5" fill="none" stroke="#007800" stroke-width="1.3" stroke-dasharray="4.6 2.8 1.1 2.8 1.1 2.8" clip-path="url(#cC)"/>
<g clip-path="url(#cC)">
<path d="M137.1 575.8 V577.8 M134.1 575.8 H140.1 M134.1 577.8 H140.1" stroke="#007800" stroke-width="1.1" fill="none"/>
<path d="M159.6 575.8 V578.2 M156.6 575.8 H162.6 M156.6 578.2 H162.6" stroke="#007800" stroke-width="1.1" fill="none"/>
<path d="M181.9 574.4 V577.6 M178.9 574.4 H184.9 M178.9 577.6 H184.9" stroke="#007800" stroke-width="1.1" fill="none"/>
<path d="M204.3 573 V577 M201.3 573 H207.3 M201.3 577 H207.3" stroke="#007800" stroke-width="1.1" fill="none"/>
<path d="M226.8 572.1 V576.9 M223.8 572.1 H229.8 M223.8 576.9 H229.8" stroke="#007800" stroke-width="1.1" fill="none"/>
<path d="M249.35 571 V577 M246.35 571 H252.35 M246.35 577 H252.35" stroke="#007800" stroke-width="1.1" fill="none"/>
<path d="M271.8 570.2 V577 M268.8 570.2 H274.8 M268.8 577 H274.8" stroke="#007800" stroke-width="1.1" fill="none"/>
<path d="M294.25 568.8 V576.8 M291.25 568.8 H297.25 M291.25 576.8 H297.25" stroke="#007800" stroke-width="1.1" fill="none"/>
<path d="M316.9 566.1 V575.5 M313.9 566.1 H319.9 M313.9 575.5 H319.9" stroke="#007800" stroke-width="1.1" fill="none"/>
<path d="M339.25 564.4 V572.4 M336.25 564.4 H342.25 M336.25 572.4 H342.25" stroke="#007800" stroke-width="1.1" fill="none"/>
<path d="M361.6 558.2 V568.8 M358.6 558.2 H364.6 M358.6 568.8 H364.6" stroke="#007800" stroke-width="1.1" fill="none"/>
<path d="M137.1 573.52 L140.58 576.8 L137.1 580.08 L133.62 576.8 Z" fill="#007800"/>
<path d="M159.6 573.72 L163.08 577 L159.6 580.28 L156.12 577 Z" fill="#007800"/>
<path d="M181.9 572.72 L185.38 576 L181.9 579.28 L178.42 576 Z" fill="#007800"/>
<path d="M204.3 571.72 L207.78 575 L204.3 578.28 L200.82 575 Z" fill="#007800"/>
<path d="M226.8 571.22 L230.28 574.5 L226.8 577.78 L223.32 574.5 Z" fill="#007800"/>
<path d="M249.35 570.72 L252.83 574 L249.35 577.28 L245.87 574 Z" fill="#007800"/>
<path d="M271.8 570.32 L275.28 573.6 L271.8 576.88 L268.32 573.6 Z" fill="#007800"/>
<path d="M294.25 569.52 L297.73 572.8 L294.25 576.08 L290.77 572.8 Z" fill="#007800"/>
<path d="M316.9 567.52 L320.38 570.8 L316.9 574.08 L313.42 570.8 Z" fill="#007800"/>
<path d="M339.25 565.12 L342.73 568.4 L339.25 571.68 L335.77 568.4 Z" fill="#007800"/>
<path d="M361.6 560.22 L365.08 563.5 L361.6 566.78 L358.12 563.5 Z" fill="#007800"/>
</g>
<path d="M376.5 576.35 L377.36 576.33 L378.23 576.31 L379.09 576.29 L379.96 576.27 L380.82 576.25 L381.69 576.23 L382.55 576.21 L383.42 576.18 L384.28 576.16 L385.15 576.13 L386.01 576.11 L386.88 576.08 L387.74 576.06 L388.61 576.03 L389.47 576 L390.34 575.97 L391.2 575.94 L392.07 575.91 L392.93 575.88 L393.8 575.84 L394.66 575.81 L395.53 575.77 L396.39 575.73 L397.25 575.7 L398.12 575.66 L398.98 575.61 L399.85 575.57 L400.71 575.53 L401.58 575.48 L402.44 575.44 L403.31 575.39 L404.17 575.34 L405.04 575.29 L405.9 575.23 L406.77 575.18 L407.63 575.12 L408.5 575.06 L409.36 575 L410.23 574.94 L411.09 574.88 L411.96 574.81 L412.82 574.74 L413.69 574.67 L414.55 574.6 L415.42 574.52 L416.28 574.44 L417.14 574.36 L418.01 574.28 L418.87 574.19 L419.74 574.1 L420.6 574.01 L421.47 573.92 L422.33 573.82 L423.2 573.72 L424.06 573.61 L424.93 573.5 L425.79 573.39 L426.66 573.28 L427.52 573.16 L428.39 573.03 L429.25 572.9 L430.12 572.77 L430.98 572.64 L431.85 572.5 L432.71 572.35 L433.58 572.2 L434.44 572.05 L435.31 571.89 L436.17 571.72 L437.03 571.55 L437.9 571.38 L438.76 571.19 L439.63 571.01 L440.49 570.81 L441.36 570.61 L442.22 570.4 L443.09 570.19 L443.95 569.97 L444.82 569.74 L445.68 569.51 L446.55 569.27 L447.41 569.02 L448.28 568.76 L449.14 568.49 L450.01 568.22 L450.87 567.93 L451.74 567.64 L452.6 567.34 L453.47 567.02 L454.33 566.7 L455.19 566.37 L456.06 566.03 L456.92 565.67 L457.79 565.31 L458.65 564.93 L459.52 564.54 L460.38 564.14 L461.25 563.73 L462.11 563.3 L462.98 562.86 L463.84 562.41 L464.71 561.94 L465.57 561.46 L466.44 560.96 L467.3 560.45 L468.17 559.92 L469.03 559.38 L469.9 558.82 L470.76 558.24 L471.63 557.64 L472.49 557.03 L473.36 556.4 L474.22 555.75 L475.08 555.08 L475.95 554.39 L476.81 553.67 L477.68 552.94 L478.54 552.19 L479.41 551.41 L480.27 550.61 L481.14 549.79 L482 548.94 L482.87 548.06 L483.73 547.17 L484.6 546.24 L485.46 545.29 L486.33 544.31 L487.19 543.31 L488.06 542.27 L488.92 541.21 L489.79 540.11 L490.65 538.99 L491.52 537.83 L492.38 536.64 L493.25 535.41 L494.11 534.16 L494.97 532.87 L495.84 531.54 L496.7 530.18 L497.57 528.77 L498.43 527.34 L499.3 525.86 L500.16 524.34 L501.03 522.78 L501.89 521.18 L502.76 519.54 L503.62 517.86 L504.49 516.13 L505.35 514.36 L506.22 512.54 L507.08 510.67 L507.95 508.76 L508.81 506.8 L509.68 504.79 L510.54 502.72 L511.41 500.61 L512.27 498.45 L513.14 496.23 L514 493.95" fill="none" stroke="#000" stroke-width="1.3" clip-path="url(#cD)"/>
<path d="M376.5 575.82 L377.36 575.76 L378.23 575.71 L379.09 575.65 L379.96 575.59 L380.82 575.53 L381.69 575.47 L382.55 575.4 L383.42 575.33 L384.28 575.26 L385.15 575.19 L386.01 575.11 L386.88 575.03 L387.74 574.95 L388.61 574.86 L389.47 574.77 L390.34 574.68 L391.2 574.58 L392.07 574.48 L392.93 574.37 L393.8 574.26 L394.66 574.15 L395.53 574.03 L396.39 573.91 L397.25 573.79 L398.12 573.66 L398.98 573.52 L399.85 573.38 L400.71 573.23 L401.58 573.08 L402.44 572.92 L403.31 572.76 L404.17 572.59 L405.04 572.42 L405.9 572.24 L406.77 572.05 L407.63 571.85 L408.5 571.65 L409.36 571.45 L410.23 571.23 L411.09 571.01 L411.96 570.78 L412.82 570.54 L413.69 570.29 L414.55 570.03 L415.42 569.77 L416.28 569.49 L417.14 569.21 L418.01 568.92 L418.87 568.61 L419.74 568.3 L420.6 567.98 L421.47 567.64 L422.33 567.3 L423.2 566.94 L424.06 566.57 L424.93 566.19 L425.79 565.8 L426.66 565.39 L427.52 564.97 L428.39 564.54 L429.25 564.09 L430.12 563.63 L430.98 563.16 L431.85 562.67 L432.71 562.16 L433.58 561.64 L434.44 561.1 L435.31 560.55 L436.17 559.98 L437.03 559.39 L437.9 558.78 L438.76 558.16 L439.63 557.51 L440.49 556.85 L441.36 556.17 L442.22 555.46 L443.09 554.74 L443.95 553.99 L444.82 553.22 L445.68 552.43 L446.55 551.62 L447.41 550.78 L448.28 549.92 L449.14 549.04 L450.01 548.13 L450.87 547.19 L451.74 546.23 L452.6 545.24 L453.47 544.22 L454.33 543.18 L455.19 542.11 L456.06 541 L456.92 539.87 L457.79 538.71 L458.65 537.51 L459.52 536.29 L460.38 535.03 L461.25 533.74 L462.11 532.41 L462.98 531.05 L463.84 529.65 L464.71 528.22 L465.57 526.75 L466.44 525.25 L467.3 523.7 L468.17 522.12 L469.03 520.5 L469.9 518.84 L470.76 517.13 L471.63 515.39 L472.49 513.6 L473.36 511.77 L474.22 509.89 L475.08 507.97 L475.95 506.01 L476.81 503.99 L477.68 501.93 L478.54 499.83 L479.41 497.67 L480.27 495.47 L481.14 493.21 L482 490.9 L482.87 488.55 L483.73 486.13 L484.6 483.67 L485.46 481.15 L486.33 478.58 L487.19 475.95 L488.06 473.26 L488.92 470.52 L489.79 467.72 L490.65 464.86 L491.52 461.94 L492.38 458.96 L493.25 455.92 L494.11 452.81 L494.97 449.65 L495.84 446.42 L496.7 443.12 L497.57 439.76 L498.43 436.34 L499.3 432.85 L499.5 432" fill="none" stroke="#007800" stroke-width="1.3" stroke-dasharray="4.6 2.8 1.1 2.8 1.1 2.8" clip-path="url(#cD)"/>
<path d="M376.5 576.77 L377.36 576.76 L378.23 576.74 L379.09 576.73 L379.96 576.71 L380.82 576.69 L381.69 576.67 L382.55 576.66 L383.42 576.63 L384.28 576.61 L385.15 576.59 L386.01 576.57 L386.88 576.54 L387.74 576.51 L388.61 576.49 L389.47 576.46 L390.34 576.42 L391.2 576.39 L392.07 576.36 L392.93 576.32 L393.8 576.28 L394.66 576.24 L395.53 576.2 L396.39 576.15 L397.25 576.11 L398.12 576.06 L398.98 576.01 L399.85 575.95 L400.71 575.89 L401.58 575.83 L402.44 575.77 L403.31 575.7 L404.17 575.63 L405.04 575.56 L405.9 575.49 L406.77 575.41 L407.63 575.32 L408.5 575.23 L409.36 575.14 L410.23 575.05 L411.09 574.95 L411.96 574.84 L412.82 574.73 L413.69 574.62 L414.55 574.5 L415.42 574.37 L416.28 574.24 L417.14 574.1 L418.01 573.96 L418.87 573.81 L419.74 573.65 L420.6 573.49 L421.47 573.32 L422.33 573.14 L423.2 572.96 L424.06 572.76 L424.93 572.56 L425.79 572.35 L426.66 572.14 L427.52 571.91 L428.39 571.67 L429.25 571.43 L430.12 571.17 L430.98 570.9 L431.85 570.63 L432.71 570.34 L433.58 570.04 L434.44 569.73 L435.31 569.41 L436.17 569.07 L437.03 568.72 L437.9 568.36 L438.76 567.99 L439.63 567.6 L440.49 567.2 L441.36 566.78 L442.22 566.34 L443.09 565.9 L443.95 565.43 L444.82 564.95 L445.68 564.45 L446.55 563.94 L447.41 563.4 L448.28 562.85 L449.14 562.28 L450.01 561.69 L450.87 561.08 L451.74 560.45 L452.6 559.8 L453.47 559.12 L454.33 558.43 L455.19 557.71 L456.06 556.97 L456.92 556.21 L457.79 555.42 L458.65 554.61 L459.52 553.77 L460.38 552.91 L461.25 552.02 L462.11 551.11 L462.98 550.17 L463.84 549.2 L464.71 548.2 L465.57 547.18 L466.44 546.13 L467.3 545.04 L468.17 543.93 L469.03 542.78 L469.9 541.61 L470.76 540.4 L471.63 539.16 L472.49 537.89 L473.36 536.59 L474.22 535.25 L475.08 533.88 L475.95 532.47 L476.81 531.03 L477.68 529.56 L478.54 528.05 L479.41 526.5 L480.27 524.92 L481.14 523.3 L482 521.64 L482.87 519.95 L483.73 518.21 L484.6 516.44 L485.46 514.64 L486.33 512.79 L487.19 510.91 L488.06 508.98 L488.92 507.02 L489.79 505.02 L490.65 502.97 L491.52 500.89 L492.38 498.77 L493.25 496.61 L494.11 494.41 L494.97 492.17 L495.84 489.89 L496.7 487.57 L497.57 485.21 L498.43 482.82 L499.3 480.38 L500.16 477.9 L501.03 475.39 L501.89 472.83 L502.76 470.24 L503.62 467.61 L504.49 464.94 L505.35 462.23 L506.22 459.49 L507.08 456.71 L507.95 453.9 L508.81 451.05 L509.68 448.16 L510.54 445.24 L511.41 442.29 L512.27 439.3 L513.14 436.28 L514 433.23" fill="none" stroke="#0000ff" stroke-width="1.3" stroke-dasharray="6 2 1.3 2" clip-path="url(#cD)"/>
<path d="M376.5 576.92 L377.36 576.92 L378.23 576.92 L379.09 576.92 L379.96 576.91 L380.82 576.91 L381.69 576.91 L382.55 576.9 L383.42 576.9 L384.28 576.9 L385.15 576.89 L386.01 576.89 L386.88 576.88 L387.74 576.88 L388.61 576.88 L389.47 576.87 L390.34 576.87 L391.2 576.86 L392.07 576.86 L392.93 576.85 L393.8 576.85 L394.66 576.84 L395.53 576.84 L396.39 576.83 L397.25 576.82 L398.12 576.82 L398.98 576.81 L399.85 576.8 L400.71 576.8 L401.58 576.79 L402.44 576.78 L403.31 576.77 L404.17 576.76 L405.04 576.76 L405.9 576.75 L406.77 576.74 L407.63 576.73 L408.5 576.72 L409.36 576.71 L410.23 576.7 L411.09 576.69 L411.96 576.67 L412.82 576.66 L413.69 576.65 L414.55 576.64 L415.42 576.62 L416.28 576.61 L417.14 576.59 L418.01 576.58 L418.87 576.56 L419.74 576.55 L420.6 576.53 L421.47 576.51 L422.33 576.49 L423.2 576.48 L424.06 576.46 L424.93 576.44 L425.79 576.42 L426.66 576.39 L427.52 576.37 L428.39 576.35 L429.25 576.32 L430.12 576.3 L430.98 576.27 L431.85 576.24 L432.71 576.22 L433.58 576.19 L434.44 576.16 L435.31 576.12 L436.17 576.09 L437.03 576.06 L437.9 576.02 L438.76 575.99 L439.63 575.95 L440.49 575.91 L441.36 575.87 L442.22 575.82 L443.09 575.78 L443.95 575.73 L444.82 575.68 L445.68 575.64 L446.55 575.58 L447.41 575.53 L448.28 575.47 L449.14 575.42 L450.01 575.36 L450.87 575.29 L451.74 575.23 L452.6 575.16 L453.47 575.09 L454.33 575.02 L455.19 574.94 L456.06 574.87 L456.92 574.78 L457.79 574.7 L458.65 574.61 L459.52 574.52 L460.38 574.43 L461.25 574.33 L462.11 574.22 L462.98 574.12 L463.84 574.01 L464.71 573.89 L465.57 573.77 L466.44 573.65 L467.3 573.52 L468.17 573.39 L469.03 573.25 L469.9 573.1 L470.76 572.95 L471.63 572.8 L472.49 572.64 L473.36 572.47 L474.22 572.29 L475.08 572.11 L475.95 571.92 L476.81 571.72 L477.68 571.52 L478.54 571.31 L479.41 571.09 L480.27 570.86 L481.14 570.62 L482 570.37 L482.87 570.11 L483.73 569.85 L484.6 569.57 L485.46 569.28 L486.33 568.98 L487.19 568.66 L488.06 568.34 L488.92 568 L489.79 567.65 L490.65 567.28 L491.52 566.9 L492.38 566.51 L493.25 566.1 L494.11 565.67 L494.97 565.22 L495.84 564.76 L496.7 564.28 L497.57 563.78 L498.43 563.26 L499.3 562.72 L500.16 562.16 L501.03 561.58 L501.89 560.97 L502.76 560.33 L503.62 559.68 L504.49 558.99 L505.35 558.28 L506.22 557.54 L507.08 556.77 L507.95 555.97 L508.81 555.14 L509.68 554.27 L510.54 553.37 L511.41 552.43 L512.27 551.46 L513.14 550.44 L514 549.38" fill="none" stroke="#ff0000" stroke-width="1.3" stroke-dasharray="5.5 3" clip-path="url(#cD)"/>
<path d="M376.5 577 L410.4 576.4 L432.9 575.5 L455.2 574.1 L477.6 572.1 L500.1 571.1 L522.65 570.2 L545.1 568.8 L567.55 567 L590.2 563.3 L612.55 557.1 L634.9 547.1" fill="none" stroke="#000" stroke-width="1.3" clip-path="url(#cD)"/>
<g clip-path="url(#cD)">
<path d="M545.1 567.8 V569.8 M542.1 567.8 H548.1 M542.1 569.8 H548.1" stroke="#000" stroke-width="1.1" fill="none"/>
<path d="M567.55 565.8 V568.2 M564.55 565.8 H570.55 M564.55 568.2 H570.55" stroke="#000" stroke-width="1.1" fill="none"/>
<path d="M590.2 561.5 V565.1 M587.2 561.5 H593.2 M587.2 565.1 H593.2" stroke="#000" stroke-width="1.1" fill="none"/>
<path d="M612.55 554.3 V559.9 M609.55 554.3 H615.55 M609.55 559.9 H615.55" stroke="#000" stroke-width="1.1" fill="none"/>
<path d="M634.9 542.5 V551.7 M631.9 542.5 H637.9 M631.9 551.7 H637.9" stroke="#000" stroke-width="1.1" fill="none"/>
<rect x="407.84" y="573.84" width="5.12" height="5.12" fill="#000"/>
<rect x="430.34" y="572.94" width="5.12" height="5.12" fill="#000"/>
<rect x="452.64" y="571.54" width="5.12" height="5.12" fill="#000"/>
<rect x="475.04" y="569.54" width="5.12" height="5.12" fill="#000"/>
<rect x="497.54" y="568.54" width="5.12" height="5.12" fill="#000"/>
<rect x="520.09" y="567.64" width="5.12" height="5.12" fill="#000"/>
<rect x="542.54" y="566.24" width="5.12" height="5.12" fill="#000"/>
<rect x="564.99" y="564.44" width="5.12" height="5.12" fill="#000"/>
<rect x="587.64" y="560.74" width="5.12" height="5.12" fill="#000"/>
<rect x="609.99" y="554.54" width="5.12" height="5.12" fill="#000"/>
<rect x="632.34" y="544.54" width="5.12" height="5.12" fill="#000"/>
</g>
<path d="M376.5 577 L410.4 578.3 L432.9 578.3 L455.2 577.6 L477.6 577.3 L500.1 577.2 L522.65 577 L545.1 577 L567.55 577 L590.2 577 L612.55 577 L634.9 577" fill="none" stroke="#ff0000" stroke-width="1.3" stroke-dasharray="5.5 3" clip-path="url(#cD)"/>
<g clip-path="url(#cD)">
<path d="M410.4 576.8 V579.8 M407.4 576.8 H413.4 M407.4 579.8 H413.4" stroke="#ff0000" stroke-width="1.1" fill="none"/>
<path d="M432.9 576.3 V580.3 M429.9 576.3 H435.9 M429.9 580.3 H435.9" stroke="#ff0000" stroke-width="1.1" fill="none"/>
<path d="M455.2 575.1 V580.1 M452.2 575.1 H458.2 M452.2 580.1 H458.2" stroke="#ff0000" stroke-width="1.1" fill="none"/>
<path d="M477.6 574.4 V580.2 M474.6 574.4 H480.6 M474.6 580.2 H480.6" stroke="#ff0000" stroke-width="1.1" fill="none"/>
<path d="M500.1 574.3 V580.1 M497.1 574.3 H503.1 M497.1 580.1 H503.1" stroke="#ff0000" stroke-width="1.1" fill="none"/>
<path d="M522.65 574 V580 M519.65 574 H525.65 M519.65 580 H525.65" stroke="#ff0000" stroke-width="1.1" fill="none"/>
<path d="M545.1 574 V580 M542.1 574 H548.1 M542.1 580 H548.1" stroke="#ff0000" stroke-width="1.1" fill="none"/>
<path d="M567.55 574 V580 M564.55 574 H570.55 M564.55 580 H570.55" stroke="#ff0000" stroke-width="1.1" fill="none"/>
<path d="M590.2 574 V580 M587.2 574 H593.2 M587.2 580 H593.2" stroke="#ff0000" stroke-width="1.1" fill="none"/>
<path d="M612.55 574 V580 M609.55 574 H615.55 M609.55 580 H615.55" stroke="#ff0000" stroke-width="1.1" fill="none"/>
<path d="M634.9 574 V580 M631.9 574 H637.9 M631.9 580 H637.9" stroke="#ff0000" stroke-width="1.1" fill="none"/>
<circle cx="410.4" cy="578.3" r="2.94" fill="#ff0000"/>
<circle cx="432.9" cy="578.3" r="2.94" fill="#ff0000"/>
<circle cx="455.2" cy="577.6" r="2.94" fill="#ff0000"/>
<circle cx="477.6" cy="577.3" r="2.94" fill="#ff0000"/>
<circle cx="500.1" cy="577.2" r="2.94" fill="#ff0000"/>
<circle cx="522.65" cy="577" r="2.94" fill="#ff0000"/>
<circle cx="545.1" cy="577" r="2.94" fill="#ff0000"/>
<circle cx="567.55" cy="577" r="2.94" fill="#ff0000"/>
<circle cx="590.2" cy="577" r="2.94" fill="#ff0000"/>
<circle cx="612.55" cy="577" r="2.94" fill="#ff0000"/>
<circle cx="634.9" cy="577" r="2.94" fill="#ff0000"/>
</g>
<path d="M376.5 577 L410.4 577.4 L432.9 575 L455.2 572 L477.6 568.5 L500.1 566 L522.65 563 L545.1 561 L567.55 559 L590.2 557 L612.55 555 L634.9 553" fill="none" stroke="#0000ff" stroke-width="1.3" stroke-dasharray="6 2 1.3 2" clip-path="url(#cD)"/>
<g clip-path="url(#cD)">
<path d="M410.4 576.4 V578.4 M407.4 576.4 H413.4 M407.4 578.4 H413.4" stroke="#0000ff" stroke-width="1.1" fill="none"/>
<path d="M432.9 573.6 V576.4 M429.9 573.6 H435.9 M429.9 576.4 H435.9" stroke="#0000ff" stroke-width="1.1" fill="none"/>
<path d="M455.2 570.2 V573.8 M452.2 570.2 H458.2 M452.2 573.8 H458.2" stroke="#0000ff" stroke-width="1.1" fill="none"/>
<path d="M477.6 566.3 V570.7 M474.6 566.3 H480.6 M474.6 570.7 H480.6" stroke="#0000ff" stroke-width="1.1" fill="none"/>
<path d="M500.1 563.4 V568.6 M497.1 563.4 H503.1 M497.1 568.6 H503.1" stroke="#0000ff" stroke-width="1.1" fill="none"/>
<path d="M522.65 560 V566 M519.65 560 H525.65 M519.65 566 H525.65" stroke="#0000ff" stroke-width="1.1" fill="none"/>
<path d="M545.1 558 V564 M542.1 558 H548.1 M542.1 564 H548.1" stroke="#0000ff" stroke-width="1.1" fill="none"/>
<path d="M567.55 556 V562 M564.55 556 H570.55 M564.55 562 H570.55" stroke="#0000ff" stroke-width="1.1" fill="none"/>
<path d="M590.2 554 V560 M587.2 554 H593.2 M587.2 560 H593.2" stroke="#0000ff" stroke-width="1.1" fill="none"/>
<path d="M612.55 552 V558 M609.55 552 H615.55 M609.55 558 H615.55" stroke="#0000ff" stroke-width="1.1" fill="none"/>
<path d="M634.9 550 V556 M631.9 550 H637.9 M631.9 556 H637.9" stroke="#0000ff" stroke-width="1.1" fill="none"/>
<path d="M410.4 573.5 L414.02 579.38 L406.78 579.38 Z" fill="#0000ff"/>
<path d="M432.9 571.1 L436.52 576.98 L429.28 576.98 Z" fill="#0000ff"/>
<path d="M455.2 568.1 L458.82 573.98 L451.58 573.98 Z" fill="#0000ff"/>
<path d="M477.6 564.6 L481.22 570.48 L473.98 570.48 Z" fill="#0000ff"/>
<path d="M500.1 562.1 L503.72 567.98 L496.48 567.98 Z" fill="#0000ff"/>
<path d="M522.65 559.1 L526.27 564.98 L519.03 564.98 Z" fill="#0000ff"/>
<path d="M545.1 557.1 L548.72 562.98 L541.48 562.98 Z" fill="#0000ff"/>
<path d="M567.55 555.1 L571.17 560.98 L563.93 560.98 Z" fill="#0000ff"/>
<path d="M590.2 553.1 L593.82 558.98 L586.58 558.98 Z" fill="#0000ff"/>
<path d="M612.55 551.1 L616.17 556.98 L608.93 556.98 Z" fill="#0000ff"/>
<path d="M634.9 549.1 L638.52 554.98 L631.28 554.98 Z" fill="#0000ff"/>
</g>
<path d="M376.5 577 L410.4 574 L432.9 570.6 L455.2 566.7 L477.6 561.4 L500.1 556.9 L522.65 552 L545.1 548 L567.55 544 L590.2 540 L612.55 536 L634.9 532" fill="none" stroke="#007800" stroke-width="1.3" stroke-dasharray="4.6 2.8 1.1 2.8 1.1 2.8" clip-path="url(#cD)"/>
<g clip-path="url(#cD)">
<path d="M410.4 572.8 V575.2 M407.4 572.8 H413.4 M407.4 575.2 H413.4" stroke="#007800" stroke-width="1.1" fill="none"/>
<path d="M432.9 568.8 V572.4 M429.9 568.8 H435.9 M429.9 572.4 H435.9" stroke="#007800" stroke-width="1.1" fill="none"/>
<path d="M455.2 564.1 V569.3 M452.2 564.1 H458.2 M452.2 569.3 H458.2" stroke="#007800" stroke-width="1.1" fill="none"/>
<path d="M477.6 558.4 V564.4 M474.6 558.4 H480.6 M474.6 564.4 H480.6" stroke="#007800" stroke-width="1.1" fill="none"/>
<path d="M500.1 553.6 V560.2 M497.1 553.6 H503.1 M497.1 560.2 H503.1" stroke="#007800" stroke-width="1.1" fill="none"/>
<path d="M522.65 548.5 V555.5 M519.65 548.5 H525.65 M519.65 555.5 H525.65" stroke="#007800" stroke-width="1.1" fill="none"/>
<path d="M545.1 544.5 V551.5 M542.1 544.5 H548.1 M542.1 551.5 H548.1" stroke="#007800" stroke-width="1.1" fill="none"/>
<path d="M567.55 540.5 V547.5 M564.55 540.5 H570.55 M564.55 547.5 H570.55" stroke="#007800" stroke-width="1.1" fill="none"/>
<path d="M590.2 536.5 V543.5 M587.2 536.5 H593.2 M587.2 543.5 H593.2" stroke="#007800" stroke-width="1.1" fill="none"/>
<path d="M612.55 532.5 V539.5 M609.55 532.5 H615.55 M609.55 539.5 H615.55" stroke="#007800" stroke-width="1.1" fill="none"/>
<path d="M634.9 528.5 V535.5 M631.9 528.5 H637.9 M631.9 535.5 H637.9" stroke="#007800" stroke-width="1.1" fill="none"/>
<path d="M410.4 570.72 L413.88 574 L410.4 577.28 L406.92 574 Z" fill="#007800"/>
<path d="M432.9 567.32 L436.38 570.6 L432.9 573.88 L429.42 570.6 Z" fill="#007800"/>
<path d="M455.2 563.42 L458.68 566.7 L455.2 569.98 L451.72 566.7 Z" fill="#007800"/>
<path d="M477.6 558.12 L481.08 561.4 L477.6 564.68 L474.12 561.4 Z" fill="#007800"/>
<path d="M500.1 553.62 L503.58 556.9 L500.1 560.18 L496.62 556.9 Z" fill="#007800"/>
<path d="M522.65 548.72 L526.13 552 L522.65 555.28 L519.17 552 Z" fill="#007800"/>
<path d="M545.1 544.72 L548.58 548 L545.1 551.28 L541.62 548 Z" fill="#007800"/>
<path d="M567.55 540.72 L571.03 544 L567.55 547.28 L564.07 544 Z" fill="#007800"/>
<path d="M590.2 536.72 L593.68 540 L590.2 543.28 L586.72 540 Z" fill="#007800"/>
<path d="M612.55 532.72 L616.03 536 L612.55 539.28 L609.07 536 Z" fill="#007800"/>
<path d="M634.9 528.72 L638.38 532 L634.9 535.28 L631.42 532 Z" fill="#007800"/>
</g>
<rect x="102.5" y="272.5" width="274" height="159.5" fill="none" stroke="#000" stroke-width="0.5"/>
<rect x="102.5" y="432" width="274" height="159.5" fill="none" stroke="#000" stroke-width="0.5"/>
<rect x="376.5" y="272.5" width="274" height="159.5" fill="none" stroke="#000" stroke-width="0.5"/>
<rect x="376.5" y="432" width="274" height="159.5" fill="none" stroke="#000" stroke-width="0.5"/>
<path d="M116.08 272.5 v2.9 M116.08 432 v-2.9 M116.08 432 v2.9 M116.08 591.5 v-2.9 M126.61 272.5 v2.9 M126.61 432 v-2.9 M126.61 432 v2.9 M126.61 591.5 v-2.9 M135.21 272.5 v2.9 M135.21 432 v-2.9 M135.21 432 v2.9 M135.21 591.5 v-2.9 M142.48 272.5 v2.9 M142.48 432 v-2.9 M142.48 432 v2.9 M142.48 591.5 v-2.9 M148.78 272.5 v2.9 M148.78 432 v-2.9 M148.78 432 v2.9 M148.78 591.5 v-2.9 M154.33 272.5 v2.9 M154.33 432 v-2.9 M154.33 432 v2.9 M154.33 591.5 v-2.9 M159.3 272.5 v5.5 M159.3 432 v-5.5 M159.3 432 v5.5 M159.3 591.5 v-5.5 M191.99 272.5 v2.9 M191.99 432 v-2.9 M191.99 432 v2.9 M191.99 591.5 v-2.9 M211.12 272.5 v2.9 M211.12 432 v-2.9 M211.12 432 v2.9 M211.12 591.5 v-2.9 M224.68 272.5 v2.9 M224.68 432 v-2.9 M224.68 432 v2.9 M224.68 591.5 v-2.9 M235.21 272.5 v2.9 M235.21 432 v-2.9 M235.21 432 v2.9 M235.21 591.5 v-2.9 M243.81 272.5 v2.9 M243.81 432 v-2.9 M243.81 432 v2.9 M243.81 591.5 v-2.9 M251.08 272.5 v2.9 M251.08 432 v-2.9 M251.08 432 v2.9 M251.08 591.5 v-2.9 M257.38 272.5 v2.9 M257.38 432 v-2.9 M257.38 432 v2.9 M257.38 591.5 v-2.9 M262.93 272.5 v2.9 M262.93 432 v-2.9 M262.93 432 v2.9 M262.93 591.5 v-2.9 M267.9 272.5 v5.5 M267.9 432 v-5.5 M267.9 432 v5.5 M267.9 591.5 v-5.5 M300.59 272.5 v2.9 M300.59 432 v-2.9 M300.59 432 v2.9 M300.59 591.5 v-2.9 M319.72 272.5 v2.9 M319.72 432 v-2.9 M319.72 432 v2.9 M319.72 591.5 v-2.9 M333.28 272.5 v2.9 M333.28 432 v-2.9 M333.28 432 v2.9 M333.28 591.5 v-2.9 M343.81 272.5 v2.9 M343.81 432 v-2.9 M343.81 432 v2.9 M343.81 591.5 v-2.9 M352.41 272.5 v2.9 M352.41 432 v-2.9 M352.41 432 v2.9 M352.41 591.5 v-2.9 M359.68 272.5 v2.9 M359.68 432 v-2.9 M359.68 432 v2.9 M359.68 591.5 v-2.9 M365.98 272.5 v2.9 M365.98 432 v-2.9 M365.98 432 v2.9 M365.98 591.5 v-2.9 M371.53 272.5 v2.9 M371.53 432 v-2.9 M371.53 432 v2.9 M371.53 591.5 v-2.9 M389.38 272.5 v2.9 M389.38 432 v-2.9 M389.38 432 v2.9 M389.38 591.5 v-2.9 M399.91 272.5 v2.9 M399.91 432 v-2.9 M399.91 432 v2.9 M399.91 591.5 v-2.9 M408.51 272.5 v2.9 M408.51 432 v-2.9 M408.51 432 v2.9 M408.51 591.5 v-2.9 M415.78 272.5 v2.9 M415.78 432 v-2.9 M415.78 432 v2.9 M415.78 591.5 v-2.9 M422.08 272.5 v2.9 M422.08 432 v-2.9 M422.08 432 v2.9 M422.08 591.5 v-2.9 M427.63 272.5 v2.9 M427.63 432 v-2.9 M427.63 432 v2.9 M427.63 591.5 v-2.9 M432.6 272.5 v5.5 M432.6 432 v-5.5 M432.6 432 v5.5 M432.6 591.5 v-5.5 M465.29 272.5 v2.9 M465.29 432 v-2.9 M465.29 432 v2.9 M465.29 591.5 v-2.9 M484.42 272.5 v2.9 M484.42 432 v-2.9 M484.42 432 v2.9 M484.42 591.5 v-2.9 M497.98 272.5 v2.9 M497.98 432 v-2.9 M497.98 432 v2.9 M497.98 591.5 v-2.9 M508.51 272.5 v2.9 M508.51 432 v-2.9 M508.51 432 v2.9 M508.51 591.5 v-2.9 M102.5 417.5 h5.5 M376.5 417.5 h-5.5 M376.5 417.5 h5.5 M650.5 417.5 h-5.5 M102.5 381.25 h2.9 M376.5 381.25 h-2.9 M376.5 381.25 h2.9 M650.5 381.25 h-2.9 M102.5 345 h5.5 M376.5 345 h-5.5 M376.5 345 h5.5 M650.5 345 h-5.5 M102.5 308.75 h2.9 M376.5 308.75 h-2.9 M376.5 308.75 h2.9 M650.5 308.75 h-2.9 M102.5 272.5 h5.5 M376.5 272.5 h-5.5 M376.5 272.5 h5.5 M650.5 272.5 h-5.5 M102.5 577 h5.5 M376.5 577 h-5.5 M376.5 577 h5.5 M650.5 577 h-5.5 M102.5 540.75 h2.9 M376.5 540.75 h-2.9 M376.5 540.75 h2.9 M650.5 540.75 h-2.9 M102.5 504.5 h5.5 M376.5 504.5 h-5.5 M376.5 504.5 h5.5 M650.5 504.5 h-5.5 M102.5 468.25 h2.9 M376.5 468.25 h-2.9 M376.5 468.25 h2.9 M650.5 468.25 h-2.9" stroke="#000" stroke-width="0.62" fill="none"/>
<text x="97.6" y="276.8" font-size="14" text-anchor="end">0.10</text>
<text x="97.6" y="349.3" font-size="14" text-anchor="end">0.05</text>
<text x="97.6" y="421.8" font-size="14" text-anchor="end">0.00</text>
<text x="97.6" y="508.8" font-size="14" text-anchor="end">0.05</text>
<text x="97.6" y="581.3" font-size="14" text-anchor="end">0.00</text>
<text x="159.3" y="607.9" font-size="14" text-anchor="middle">0.1</text>
<text x="267.9" y="607.9" font-size="14" text-anchor="middle">1</text>
<text x="376.5" y="607.9" font-size="14" text-anchor="middle">10</text>
<text x="432.6" y="607.9" font-size="14" text-anchor="middle">0.1</text>
<text x="363.1" y="254.4" font-size="19.3">z=0</text>
<text x="337.6" y="635.6" font-size="19.1">k [h/Mpc]</text>
<text transform="translate(48 450.3) rotate(-90) scale(0.967 1)" font-size="19.5">ΔP/P<tspan font-size="12" dy="7.8">GR</tspan></text>
<path d="M111.5 290.9 H134.1" stroke="#000" stroke-width="1.3" fill="none"/>
<rect x="119" y="286.9" width="8" height="8" fill="#000"/>
<text x="136.3" y="294.3" font-size="11.5">baseline</text>
<path d="M111.5 305 H115.1 M127.7 305 H130.8" stroke="#ff0000" stroke-width="1.3" fill="none"/>
<circle cx="123" cy="305" r="4.6" fill="#ff0000"/>
<text x="135.7" y="308.4" font-size="11.5">A1</text>
<path d="M111.5 319.1 H115.3 M116.4 319.1 H117.4 M129.8 319.1 H134.1" stroke="#0000ff" stroke-width="1.3" fill="none"/>
<path d="M123 313 L128.65 322.2 L117.35 322.2 Z" fill="#0000ff"/>
<text x="135.7" y="322.5" font-size="11.5">A2</text>
<path d="M391 295.3 H413.6" stroke="#000" stroke-width="1.3" fill="none"/>
<rect x="398.5" y="291.3" width="8" height="8" fill="#000"/>
<text x="416.2" y="298.7" font-size="11.5">baseline</text>
<path d="M391 309.4 H394.6 M407.2 309.4 H410.3" stroke="#ff0000" stroke-width="1.3" fill="none"/>
<circle cx="402.5" cy="309.4" r="4.6" fill="#ff0000"/>
<text x="416.5" y="312.8" font-size="11.5">B1</text>
<path d="M391 323.5 H394.8 M395.9 323.5 H396.9 M409.3 323.5 H413.6" stroke="#0000ff" stroke-width="1.3" fill="none"/>
<path d="M402.5 317.4 L408.15 326.6 L396.85 326.6 Z" fill="#0000ff"/>
<text x="416.5" y="326.9" font-size="11.5">B2</text>
<path d="M391 337.6 H394.5 M395.5 337.6 H396.3 M410.2 337.6 H411" stroke="#007800" stroke-width="1.3" fill="none"/>
<path d="M402.5 331.95 L408.5 337.6 L402.5 343.25 L396.5 337.6 Z" fill="#007800"/>
<text x="416.5" y="341" font-size="11.5">B3</text>
<path d="M117.3 454.8 H139.9" stroke="#000" stroke-width="1.3" fill="none"/>
<rect x="124.8" y="450.8" width="8" height="8" fill="#000"/>
<text x="142.2" y="458.2" font-size="11.5">baseline</text>
<path d="M117.3 468.9 H120.9 M133.5 468.9 H136.6" stroke="#ff0000" stroke-width="1.3" fill="none"/>
<circle cx="128.8" cy="468.9" r="4.6" fill="#ff0000"/>
<text x="142.6" y="472.3" font-size="11.5">C1</text>
<path d="M117.3 483 H121.1 M122.2 483 H123.2 M135.6 483 H139.9" stroke="#0000ff" stroke-width="1.3" fill="none"/>
<path d="M128.8 476.9 L134.45 486.1 L123.15 486.1 Z" fill="#0000ff"/>
<text x="142.6" y="486.4" font-size="11.5">C2</text>
<path d="M117.3 497.1 H120.8 M121.8 497.1 H122.6 M136.5 497.1 H137.3" stroke="#007800" stroke-width="1.3" fill="none"/>
<path d="M128.8 491.45 L134.8 497.1 L128.8 502.75 L122.8 497.1 Z" fill="#007800"/>
<text x="142.6" y="500.5" font-size="11.5">C3</text>
<path d="M391 454.8 H413.6" stroke="#000" stroke-width="1.3" fill="none"/>
<rect x="398.5" y="450.8" width="8" height="8" fill="#000"/>
<text x="416.2" y="458.2" font-size="11.5">baseline</text>
<path d="M391 468.9 H394.6 M407.2 468.9 H410.3" stroke="#ff0000" stroke-width="1.3" fill="none"/>
<circle cx="402.5" cy="468.9" r="4.6" fill="#ff0000"/>
<text x="416.5" y="472.3" font-size="11.5">D1</text>
<path d="M391 483 H394.8 M395.9 483 H396.9 M409.3 483 H413.6" stroke="#0000ff" stroke-width="1.3" fill="none"/>
<path d="M402.5 476.9 L408.15 486.1 L396.85 486.1 Z" fill="#0000ff"/>
<text x="416.5" y="486.4" font-size="11.5">D2</text>
<path d="M391 497.1 H394.5 M395.5 497.1 H396.3 M410.2 497.1 H411" stroke="#007800" stroke-width="1.3" fill="none"/>
<path d="M402.5 491.45 L408.5 497.1 L402.5 502.75 L396.5 497.1 Z" fill="#007800"/>
<text x="416.5" y="500.5" font-size="11.5">D3</text>
</svg>
</body></html>
